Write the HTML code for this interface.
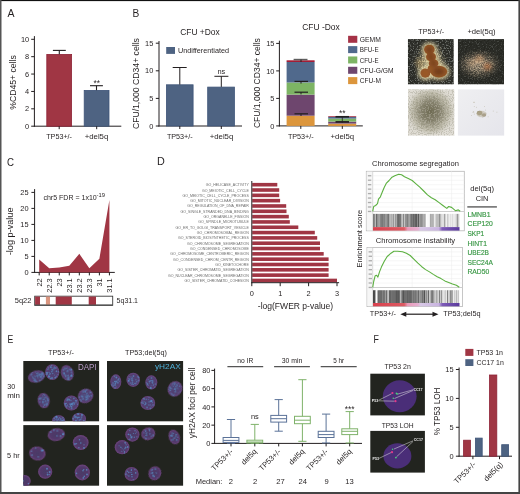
<!DOCTYPE html>
<html><head><meta charset="utf-8"><style>
html,body{margin:0;padding:0;background:#fff;overflow:hidden;}
svg{display:block;will-change:transform;filter:blur(0.3px);}
text{font-family:"Liberation Sans",sans-serif;}
</style></head><body>
<svg width="520" height="494" viewBox="0 0 520 494">
<rect x="0" y="0" width="520" height="494" fill="#fff"/>
<text x="7.6" y="16.5" font-size="11" text-anchor="start" fill="#231f20" textLength="7" lengthAdjust="spacingAndGlyphs">A</text>
<line x1="34.4" y1="36.1" x2="34.4" y2="126.7" stroke="#231f20" stroke-width="1.0"/>
<line x1="31.2" y1="126.2" x2="34.4" y2="126.2" stroke="#231f20" stroke-width="1.0"/>
<text x="29.2" y="128.8" font-size="7.4" text-anchor="end" fill="#231f20">0</text>
<line x1="31.2" y1="108.82000000000001" x2="34.4" y2="108.82000000000001" stroke="#231f20" stroke-width="1.0"/>
<text x="29.2" y="111.42" font-size="7.4" text-anchor="end" fill="#231f20">2</text>
<line x1="31.2" y1="91.44" x2="34.4" y2="91.44" stroke="#231f20" stroke-width="1.0"/>
<text x="29.2" y="94.03999999999999" font-size="7.4" text-anchor="end" fill="#231f20">4</text>
<line x1="31.2" y1="74.06" x2="34.4" y2="74.06" stroke="#231f20" stroke-width="1.0"/>
<text x="29.2" y="76.66" font-size="7.4" text-anchor="end" fill="#231f20">6</text>
<line x1="31.2" y1="56.68000000000001" x2="34.4" y2="56.68000000000001" stroke="#231f20" stroke-width="1.0"/>
<text x="29.2" y="59.28000000000001" font-size="7.4" text-anchor="end" fill="#231f20">8</text>
<line x1="31.2" y1="39.30000000000001" x2="34.4" y2="39.30000000000001" stroke="#231f20" stroke-width="1.0"/>
<text x="29.2" y="41.90000000000001" font-size="7.4" text-anchor="end" fill="#231f20">10</text>
<line x1="33.9" y1="126.2" x2="121.3" y2="126.2" stroke="#231f20" stroke-width="1.0"/>
<rect x="46.80" y="54.40" width="24.80" height="71.80" fill="#a03644" stroke="#8e2236" stroke-width="0.8"/>
<rect x="84.20" y="90.40" width="24.80" height="35.80" fill="#4e6382" stroke="#3e5478" stroke-width="0.8"/>
<line x1="59.3" y1="54.2" x2="59.3" y2="50.4" stroke="#231f20" stroke-width="1.1"/>
<line x1="52.9" y1="50.4" x2="65.8" y2="50.4" stroke="#231f20" stroke-width="1.1"/>
<line x1="96.5" y1="90.2" x2="96.5" y2="85.7" stroke="#231f20" stroke-width="1.1"/>
<line x1="90" y1="85.7" x2="102.9" y2="85.7" stroke="#231f20" stroke-width="1.1"/>
<text x="96.7" y="86" font-size="8.4" text-anchor="middle" fill="#231f20">**</text>
<line x1="59.2" y1="126.2" x2="59.2" y2="129.2" stroke="#231f20" stroke-width="1"/>
<line x1="96.7" y1="126.2" x2="96.7" y2="129.2" stroke="#231f20" stroke-width="1"/>
<text x="59.1" y="138.6" font-size="8.0" text-anchor="middle" fill="#231f20" textLength="25.8" lengthAdjust="spacingAndGlyphs">TP53+/-</text>
<text x="96.5" y="138.6" font-size="8.0" text-anchor="middle" fill="#231f20" textLength="23.6" lengthAdjust="spacingAndGlyphs">+del5q</text>
<text x="15.6" y="82.5" font-size="9.2" text-anchor="middle" fill="#231f20" textLength="54.5" lengthAdjust="spacingAndGlyphs" transform="rotate(-90 15.6 82.5)">%CD45+ cells</text>
<text x="132.4" y="16.5" font-size="11" text-anchor="start" fill="#231f20" textLength="6.8" lengthAdjust="spacingAndGlyphs">B</text>
<line x1="159" y1="41" x2="159" y2="126.5" stroke="#231f20" stroke-width="1.0"/>
<line x1="155.8" y1="126.0" x2="159" y2="126.0" stroke="#231f20" stroke-width="1.0"/>
<text x="153.3" y="128.6" font-size="7.4" text-anchor="end" fill="#231f20">0</text>
<line x1="155.8" y1="98.4" x2="159" y2="98.4" stroke="#231f20" stroke-width="1.0"/>
<text x="153.3" y="101.0" font-size="7.4" text-anchor="end" fill="#231f20">5</text>
<line x1="155.8" y1="70.8" x2="159" y2="70.8" stroke="#231f20" stroke-width="1.0"/>
<text x="153.3" y="73.39999999999999" font-size="7.4" text-anchor="end" fill="#231f20">10</text>
<line x1="155.8" y1="43.19999999999999" x2="159" y2="43.19999999999999" stroke="#231f20" stroke-width="1.0"/>
<text x="153.3" y="45.79999999999999" font-size="7.4" text-anchor="end" fill="#231f20">15</text>
<line x1="158.5" y1="126" x2="242" y2="126" stroke="#231f20" stroke-width="1.0"/>
<text x="200" y="34.7" font-size="8.6" text-anchor="middle" fill="#231f20" textLength="39.6" lengthAdjust="spacingAndGlyphs">CFU +Dox</text>
<rect x="166.20" y="47.00" width="8.80" height="6.90" fill="#4e6382"/>
<text x="178" y="52.6" font-size="7.2" text-anchor="start" fill="#231f20" textLength="51" lengthAdjust="spacingAndGlyphs">Undifferentiated</text>
<rect x="166.40" y="84.80" width="26.70" height="41.20" fill="#4e6382" stroke="#3e5478" stroke-width="0.8"/>
<rect x="207.70" y="87.10" width="26.70" height="38.90" fill="#4e6382" stroke="#3e5478" stroke-width="0.8"/>
<line x1="179.8" y1="84.6" x2="179.8" y2="67.5" stroke="#231f20" stroke-width="1"/>
<line x1="172.7" y1="67.5" x2="186.7" y2="67.5" stroke="#231f20" stroke-width="1"/>
<line x1="221.3" y1="86.9" x2="221.3" y2="76.3" stroke="#231f20" stroke-width="1"/>
<line x1="214.4" y1="76.3" x2="228.4" y2="76.3" stroke="#231f20" stroke-width="1"/>
<text x="221.3" y="73.8" font-size="7.4" text-anchor="middle" fill="#231f20">ns</text>
<line x1="179.8" y1="126" x2="179.8" y2="129" stroke="#231f20" stroke-width="1"/>
<line x1="221.3" y1="126" x2="221.3" y2="129" stroke="#231f20" stroke-width="1"/>
<text x="179.8" y="138.8" font-size="8.0" text-anchor="middle" fill="#231f20" textLength="25.8" lengthAdjust="spacingAndGlyphs">TP53+/-</text>
<text x="221.5" y="138.8" font-size="8.0" text-anchor="middle" fill="#231f20" textLength="23.6" lengthAdjust="spacingAndGlyphs">+del5q</text>
<text x="139.2" y="83.6" font-size="8.8" text-anchor="middle" fill="#231f20" textLength="91" lengthAdjust="spacingAndGlyphs" transform="rotate(-90 139.2 83.6)">CFU/1,000 CD34+ cells</text>
<line x1="279.4" y1="40.7" x2="279.4" y2="126.4" stroke="#231f20" stroke-width="1.0"/>
<line x1="276.2" y1="125.9" x2="279.4" y2="125.9" stroke="#231f20" stroke-width="1.0"/>
<text x="274.4" y="128.5" font-size="7.4" text-anchor="end" fill="#231f20">0</text>
<line x1="276.2" y1="98.4" x2="279.4" y2="98.4" stroke="#231f20" stroke-width="1.0"/>
<text x="274.4" y="101.0" font-size="7.4" text-anchor="end" fill="#231f20">5</text>
<line x1="276.2" y1="70.9" x2="279.4" y2="70.9" stroke="#231f20" stroke-width="1.0"/>
<text x="274.4" y="73.5" font-size="7.4" text-anchor="end" fill="#231f20">10</text>
<line x1="276.2" y1="43.400000000000006" x2="279.4" y2="43.400000000000006" stroke="#231f20" stroke-width="1.0"/>
<text x="274.4" y="46.00000000000001" font-size="7.4" text-anchor="end" fill="#231f20">15</text>
<line x1="278.9" y1="125.9" x2="362.8" y2="125.9" stroke="#231f20" stroke-width="1.0"/>
<text x="321" y="30.2" font-size="8.6" text-anchor="middle" fill="#231f20" textLength="37.6" lengthAdjust="spacingAndGlyphs">CFU -Dox</text>
<rect x="286.60" y="115.70" width="28.00" height="10.20" fill="#dc963c"/>
<rect x="286.60" y="94.60" width="28.00" height="21.10" fill="#6e466e"/>
<rect x="286.60" y="82.50" width="28.00" height="12.10" fill="#7db464"/>
<rect x="286.60" y="61.80" width="28.00" height="20.70" fill="#50698c"/>
<rect x="286.60" y="60.30" width="28.00" height="1.70" fill="#a41c36"/>
<line x1="294.5" y1="81.4" x2="308" y2="81.4" stroke="#231f20" stroke-width="1.2"/>
<line x1="301" y1="81.4" x2="301" y2="83.60000000000001" stroke="#231f20" stroke-width="1"/>
<line x1="294.5" y1="92.2" x2="308" y2="92.2" stroke="#231f20" stroke-width="1.2"/>
<line x1="301" y1="92.2" x2="301" y2="94.4" stroke="#231f20" stroke-width="1"/>
<line x1="294.5" y1="113.8" x2="308" y2="113.8" stroke="#231f20" stroke-width="1.2"/>
<line x1="301" y1="113.8" x2="301" y2="116.0" stroke="#231f20" stroke-width="1"/>
<line x1="293.6" y1="59.6" x2="307.5" y2="59.6" stroke="#5e5e5e" stroke-width="1.6"/>
<line x1="301" y1="59.6" x2="301" y2="62" stroke="#231f20" stroke-width="1"/>
<rect x="328.20" y="123.60" width="28.00" height="2.30" fill="#dc963c"/>
<rect x="328.20" y="121.60" width="28.00" height="2.00" fill="#6e466e"/>
<rect x="328.20" y="118.60" width="28.00" height="3.00" fill="#7db464"/>
<rect x="328.20" y="117.00" width="28.00" height="1.60" fill="#50698c"/>
<rect x="328.20" y="116.20" width="28.00" height="0.80" fill="#a53246"/>
<line x1="335.5" y1="116.8" x2="349" y2="116.8" stroke="#231f20" stroke-width="1.7"/>
<line x1="335.5" y1="121.9" x2="349" y2="121.9" stroke="#231f20" stroke-width="1.7"/>
<line x1="342.3" y1="116.7" x2="342.3" y2="123" stroke="#231f20" stroke-width="0.8"/>
<text x="342.3" y="115.5" font-size="8.4" text-anchor="middle" fill="#231f20">**</text>
<line x1="300.8" y1="125.9" x2="300.8" y2="128.9" stroke="#231f20" stroke-width="1"/>
<line x1="342.3" y1="125.9" x2="342.3" y2="128.9" stroke="#231f20" stroke-width="1"/>
<text x="300.8" y="138.5" font-size="8.0" text-anchor="middle" fill="#231f20" textLength="25.8" lengthAdjust="spacingAndGlyphs">TP53+/-</text>
<text x="342.3" y="138.5" font-size="8.0" text-anchor="middle" fill="#231f20" textLength="23.6" lengthAdjust="spacingAndGlyphs">+del5q</text>
<text x="259.9" y="83.1" font-size="8.8" text-anchor="middle" fill="#231f20" textLength="90" lengthAdjust="spacingAndGlyphs" transform="rotate(-90 259.9 83.1)">CFU/1,000 CD34+ cells</text>
<rect x="348.10" y="35.80" width="9.20" height="7.00" fill="#a53246"/>
<text x="359.8" y="41.9" font-size="7.4" text-anchor="start" fill="#231f20" textLength="21" lengthAdjust="spacingAndGlyphs">GEMM</text>
<rect x="348.10" y="46.13" width="9.20" height="7.00" fill="#50698c"/>
<text x="359.8" y="52.23" font-size="7.4" text-anchor="start" fill="#231f20" textLength="18.8" lengthAdjust="spacingAndGlyphs">BFU-E</text>
<rect x="348.10" y="56.46" width="9.20" height="7.00" fill="#7db464"/>
<text x="359.8" y="62.559999999999995" font-size="7.4" text-anchor="start" fill="#231f20" textLength="18.8" lengthAdjust="spacingAndGlyphs">CFU-E</text>
<rect x="348.10" y="66.79" width="9.20" height="7.00" fill="#6e466e"/>
<text x="359.8" y="72.88999999999999" font-size="7.4" text-anchor="start" fill="#231f20" textLength="33.7" lengthAdjust="spacingAndGlyphs">CFU-G/GM</text>
<rect x="348.10" y="77.12" width="9.20" height="7.00" fill="#dc963c"/>
<text x="359.8" y="83.22" font-size="7.4" text-anchor="start" fill="#231f20" textLength="21.2" lengthAdjust="spacingAndGlyphs">CFU-M</text>
<text x="431.2" y="33.6" font-size="8.0" text-anchor="middle" fill="#231f20" textLength="25.8" lengthAdjust="spacingAndGlyphs">TP53+/-</text>
<text x="481.5" y="33.6" font-size="8.0" text-anchor="middle" fill="#231f20" textLength="28.2" lengthAdjust="spacingAndGlyphs">+del(5q)</text>
<defs>
<filter id="nL1" x="0" y="0" width="100%" height="100%" color-interpolation-filters="sRGB">
 <feTurbulence type="fractalNoise" baseFrequency="0.75" numOctaves="2" seed="4" result="n"/>
 <feColorMatrix in="n" type="matrix" values="0 0 0 0 0.93  0 0 0 0 0.88  0 0 0 0 0.72  0 0 0 12 -6.3" result="c"/>
 <feComposite in="c" in2="SourceGraphic" operator="in"/>
</filter>
<filter id="nG1" x="0" y="0" width="100%" height="100%" color-interpolation-filters="sRGB">
 <feTurbulence type="fractalNoise" baseFrequency="0.75" numOctaves="2" seed="8" result="n"/>
 <feColorMatrix in="n" type="matrix" values="0 0 0 0 0.62  0 0 0 0 0.64  0 0 0 0 0.62  0 0 0 12 -6.5" result="c"/>
 <feComposite in="c" in2="SourceGraphic" operator="in"/>
</filter>
<filter id="nD1" x="0" y="0" width="100%" height="100%" color-interpolation-filters="sRGB">
 <feTurbulence type="fractalNoise" baseFrequency="0.75" numOctaves="2" seed="13" result="n"/>
 <feColorMatrix in="n" type="matrix" values="0 0 0 0 0.12  0 0 0 0 0.12  0 0 0 0 0.1  0 0 0 12 -6.3" result="c"/>
 <feComposite in="c" in2="SourceGraphic" operator="in"/>
</filter>
<filter id="nL2" x="0" y="0" width="100%" height="100%" color-interpolation-filters="sRGB">
 <feTurbulence type="fractalNoise" baseFrequency="0.75" numOctaves="2" seed="5" result="n"/>
 <feColorMatrix in="n" type="matrix" values="0 0 0 0 0.9  0 0 0 0 0.82  0 0 0 0 0.68  0 0 0 12 -6.0" result="c"/>
 <feComposite in="c" in2="SourceGraphic" operator="in"/>
</filter>
<filter id="nG2" x="0" y="0" width="100%" height="100%" color-interpolation-filters="sRGB">
 <feTurbulence type="fractalNoise" baseFrequency="0.75" numOctaves="2" seed="17" result="n"/>
 <feColorMatrix in="n" type="matrix" values="0 0 0 0 0.55  0 0 0 0 0.56  0 0 0 0 0.55  0 0 0 14 -8.0" result="c"/>
 <feComposite in="c" in2="SourceGraphic" operator="in"/>
</filter>
<filter id="nB3" x="0" y="0" width="100%" height="100%" color-interpolation-filters="sRGB">
 <feTurbulence type="fractalNoise" baseFrequency="0.75" numOctaves="2" seed="21" result="n"/>
 <feColorMatrix in="n" type="matrix" values="0 0 0 0 0.42  0 0 0 0 0.42  0 0 0 0 0.32  0 0 0 12 -6.0" result="c"/>
 <feComposite in="c" in2="SourceGraphic" operator="in"/>
</filter>
<filter id="nW3" x="0" y="0" width="100%" height="100%" color-interpolation-filters="sRGB">
 <feTurbulence type="fractalNoise" baseFrequency="0.75" numOctaves="2" seed="23" result="n"/>
 <feColorMatrix in="n" type="matrix" values="0 0 0 0 0.9  0 0 0 0 0.89  0 0 0 0 0.86  0 0 0 12 -6.3" result="c"/>
 <feComposite in="c" in2="SourceGraphic" operator="in"/>
</filter>
<radialGradient id="h1" cx="0.5" cy="0.5" r="0.5"><stop offset="0" stop-color="#ddd0a4" stop-opacity="0.95"/><stop offset="0.6" stop-color="#c8b98e" stop-opacity="0.6"/><stop offset="1" stop-color="#a89c7c" stop-opacity="0"/></radialGradient>
<radialGradient id="h2" cx="0.5" cy="0.5" r="0.5"><stop offset="0" stop-color="#c4b098" stop-opacity="0.9"/><stop offset="0.5" stop-color="#a4947e" stop-opacity="0.6"/><stop offset="1" stop-color="#807060" stop-opacity="0"/></radialGradient>
<radialGradient id="h3" cx="0.5" cy="0.5" r="0.5"><stop offset="0" stop-color="#6c6850" stop-opacity="0.97"/><stop offset="0.4" stop-color="#7a7660" stop-opacity="0.85"/><stop offset="0.75" stop-color="#9c987f" stop-opacity="0.5"/><stop offset="1" stop-color="#b8b4a4" stop-opacity="0"/></radialGradient>
<radialGradient id="mk" cx="0.5" cy="0.5" r="0.5"><stop offset="0" stop-color="#fff" stop-opacity="1"/><stop offset="0.6" stop-color="#fff" stop-opacity="0.6"/><stop offset="1" stop-color="#fff" stop-opacity="0"/></radialGradient>
<radialGradient id="col" cx="0.5" cy="0.5" r="0.5"><stop offset="0" stop-color="#8e4c1e"/><stop offset="0.7" stop-color="#a05a24"/><stop offset="1" stop-color="#c0883a"/></radialGradient>
<linearGradient id="g4" x1="0" y1="0" x2="1" y2="1"><stop offset="0" stop-color="#efeff1"/><stop offset="1" stop-color="#e5e5eb"/></linearGradient>
<filter id="blr" x="-30%" y="-30%" width="160%" height="160%"><feGaussianBlur stdDeviation="0.7"/></filter>
<filter id="blr2" x="-50%" y="-50%" width="200%" height="200%"><feGaussianBlur stdDeviation="2"/></filter>
<clipPath id="c1"><rect x="407.8" y="39.1" width="46" height="45.4"/></clipPath>
<clipPath id="c2"><rect x="457.8" y="39.1" width="46.2" height="45.4"/></clipPath>
<clipPath id="c3"><rect x="408" y="89.2" width="46.5" height="46.6"/></clipPath>
<clipPath id="c4"><rect x="457.7" y="89.2" width="46.7" height="46.6"/></clipPath>
</defs>
<g clip-path="url(#c1)">
<rect x="407.8" y="39.1" width="46" height="45.4" fill="#2e2f2a"/>
<rect x="407.8" y="39.1" width="46" height="45.4" fill="#fff" filter="url(#nG1)" opacity="0.5"/>
<ellipse cx="431" cy="63" rx="16" ry="18" fill="url(#h1)" filter="url(#blr)" opacity="0.6"/>
<ellipse cx="431" cy="63" rx="19" ry="21" fill="url(#mk)" filter="url(#nL1)" opacity="0.8"/>
<rect x="407.8" y="39.1" width="46" height="45.4" fill="#fff" filter="url(#nD1)" opacity="0.45"/>
<g filter="url(#blr2)" fill="#f0e2b0" opacity="0.9"><ellipse cx="429.4" cy="49.5" rx="7.5" ry="7.0"/><ellipse cx="431.0" cy="56.8" rx="7.199999999999999" ry="6.6"/><ellipse cx="433.6" cy="63.5" rx="7.0" ry="6.4"/><ellipse cx="425.4" cy="73.1" rx="7.199999999999999" ry="6.800000000000001"/><ellipse cx="438.9" cy="71.6" rx="10.6" ry="8.0"/><ellipse cx="431.5" cy="69" rx="6.1" ry="6.1"/></g>
<ellipse cx="419.8" cy="63" rx="4" ry="4.8" fill="#d9b878" opacity="0.45" filter="url(#blr2)"/>
<g filter="url(#blr)" fill="#96582a"><ellipse cx="429.4" cy="49.5" rx="5.300000000000001" ry="4.800000000000001"/><ellipse cx="431.0" cy="56.8" rx="5.0" ry="4.4"/><ellipse cx="433.6" cy="63.5" rx="4.800000000000001" ry="4.2"/><ellipse cx="425.4" cy="73.1" rx="5.0" ry="4.6000000000000005"/><ellipse cx="438.9" cy="71.6" rx="8.4" ry="5.800000000000001"/><ellipse cx="431.5" cy="69" rx="3.9" ry="3.9"/></g>
<g filter="url(#blr2)" fill="#6a3818" opacity="0.85"><ellipse cx="429.4" cy="49.5" rx="3.43" ry="3.08"/><ellipse cx="431.0" cy="56.8" rx="3.2199999999999998" ry="2.8"/><ellipse cx="433.6" cy="63.5" rx="3.08" ry="2.6599999999999997"/><ellipse cx="438.9" cy="71.6" rx="5.6" ry="3.78"/></g>
<ellipse cx="425.4" cy="73.3" rx="3.2" ry="2.8" fill="#9a5826" opacity="0.8" filter="url(#blr)"/>
</g>
<g clip-path="url(#c2)">
<rect x="457.8" y="39.1" width="46.2" height="45.4" fill="#2b2c27"/>
<rect x="457.8" y="39.1" width="46.2" height="45.4" fill="#fff" filter="url(#nG2)" opacity="0.25"/>
<ellipse cx="479" cy="64.5" rx="21" ry="13" fill="url(#h2)" filter="url(#blr2)"/>
<ellipse cx="479" cy="64" rx="22" ry="16" fill="url(#mk)" filter="url(#nL2)" opacity="0.55"/>
<rect x="457.8" y="39.1" width="46.2" height="45.4" fill="#fff" filter="url(#nD1)" opacity="0.45"/>
<g filter="url(#blr2)"><ellipse cx="479.3" cy="59" rx="4.5" ry="3" fill="#d9a070" opacity="0.65"/><ellipse cx="487.4" cy="66.4" rx="3.5" ry="3" fill="#c07040" opacity="0.8"/><ellipse cx="472" cy="63" rx="4" ry="3" fill="#d0a880" opacity="0.5"/></g>
</g>
<g clip-path="url(#c3)">
<rect x="408" y="89.2" width="46.5" height="46.6" fill="#dfdcd4"/>
<ellipse cx="430.5" cy="111.5" rx="25" ry="25" fill="url(#h3)" filter="url(#blr)"/>
<rect x="408" y="89.2" width="46.5" height="46.6" fill="#fff" filter="url(#nB3)" opacity="0.22"/>
<rect x="408" y="89.2" width="46.5" height="46.6" fill="#fff" filter="url(#nW3)" opacity="0.25"/>
</g>
<g clip-path="url(#c4)">
<rect x="457.7" y="89.2" width="46.7" height="46.6" fill="url(#g4)"/>
<g filter="url(#blr)"><ellipse cx="479.6" cy="113" rx="2.8" ry="2.2" fill="#8e8462" opacity="0.85"/><ellipse cx="484" cy="115" rx="2.2" ry="1.7" fill="#8a7e66" opacity="0.8"/><ellipse cx="481.5" cy="114" rx="5" ry="3.2" fill="#b8b098" opacity="0.5"/></g>
<rect x="473.9" y="113.7" width="0.8" height="0.8" fill="#a8a088" opacity="0.5"/>
<rect x="485.0" y="109.7" width="0.8" height="0.8" fill="#a8a088" opacity="0.5"/>
<rect x="473.4" y="111.7" width="0.8" height="0.8" fill="#a8a088" opacity="0.5"/>
<rect x="482.4" y="116.9" width="0.8" height="0.8" fill="#a8a088" opacity="0.5"/>
<rect x="473.9" y="106.2" width="0.8" height="0.8" fill="#a8a088" opacity="0.5"/>
<rect x="483.5" y="114.1" width="0.8" height="0.8" fill="#a8a088" opacity="0.5"/>
<rect x="487.7" y="116.4" width="0.8" height="0.8" fill="#a8a088" opacity="0.5"/>
<rect x="479.5" y="110.8" width="0.8" height="0.8" fill="#a8a088" opacity="0.5"/>
<rect x="492.9" y="110.7" width="0.8" height="0.8" fill="#a8a088" opacity="0.5"/>
<rect x="476.1" y="106.9" width="0.8" height="0.8" fill="#a8a088" opacity="0.5"/>
<rect x="480.5" y="112.7" width="0.8" height="0.8" fill="#a8a088" opacity="0.5"/>
<rect x="478.3" y="111.7" width="0.8" height="0.8" fill="#a8a088" opacity="0.5"/>
<rect x="481.4" y="115.1" width="0.8" height="0.8" fill="#a8a088" opacity="0.5"/>
<rect x="485.5" y="112.9" width="0.8" height="0.8" fill="#a8a088" opacity="0.5"/>
<rect x="471.1" y="115.2" width="0.8" height="0.8" fill="#a8a088" opacity="0.5"/>
<rect x="472.9" y="111.2" width="0.8" height="0.8" fill="#a8a088" opacity="0.5"/>
<rect x="472.6" y="112.0" width="0.8" height="0.8" fill="#a8a088" opacity="0.5"/>
<rect x="476.1" y="113.0" width="0.8" height="0.8" fill="#a8a088" opacity="0.5"/>
<rect x="496.5" y="111.8" width="0.8" height="0.8" fill="#a8a088" opacity="0.5"/>
<rect x="484.2" y="106.0" width="0.8" height="0.8" fill="#a8a088" opacity="0.5"/>
<rect x="478.6" y="115.0" width="0.8" height="0.8" fill="#a8a088" opacity="0.5"/>
<rect x="479.5" y="113.7" width="0.8" height="0.8" fill="#a8a088" opacity="0.5"/>
<rect x="473.5" y="101.8" width="1" height="1.2" fill="#a09878" opacity="0.6"/>
</g>
<text x="7.0" y="165.8" font-size="11" text-anchor="start" fill="#231f20" textLength="7" lengthAdjust="spacingAndGlyphs">C</text>
<line x1="34.6" y1="189.1" x2="34.6" y2="272.9" stroke="#231f20" stroke-width="1.0"/>
<line x1="31.400000000000002" y1="272.4" x2="34.6" y2="272.4" stroke="#231f20" stroke-width="1.0"/>
<text x="28.6" y="275.0" font-size="7.4" text-anchor="end" fill="#231f20">0</text>
<line x1="31.400000000000002" y1="256.4" x2="34.6" y2="256.4" stroke="#231f20" stroke-width="1.0"/>
<text x="28.6" y="259.0" font-size="7.4" text-anchor="end" fill="#231f20">5</text>
<line x1="31.400000000000002" y1="240.39999999999998" x2="34.6" y2="240.39999999999998" stroke="#231f20" stroke-width="1.0"/>
<text x="28.6" y="242.99999999999997" font-size="7.4" text-anchor="end" fill="#231f20">10</text>
<line x1="31.400000000000002" y1="224.39999999999998" x2="34.6" y2="224.39999999999998" stroke="#231f20" stroke-width="1.0"/>
<text x="28.6" y="226.99999999999997" font-size="7.4" text-anchor="end" fill="#231f20">15</text>
<line x1="31.400000000000002" y1="208.39999999999998" x2="34.6" y2="208.39999999999998" stroke="#231f20" stroke-width="1.0"/>
<text x="28.6" y="210.99999999999997" font-size="7.4" text-anchor="end" fill="#231f20">20</text>
<line x1="31.400000000000002" y1="192.39999999999998" x2="34.6" y2="192.39999999999998" stroke="#231f20" stroke-width="1.0"/>
<text x="28.6" y="194.99999999999997" font-size="7.4" text-anchor="end" fill="#231f20">25</text>
<line x1="34.1" y1="272.4" x2="114.8" y2="272.4" stroke="#231f20" stroke-width="1.0"/>
<polygon points="39.2,272.4 39.20,259.60 49.23,268.24 59.26,267.60 69.29,265.68 79.32,253.84 89.35,268.24 99.38,258.64 109.41,200.08 109.41,272.4" fill="#a03644"/>
<line x1="39.2" y1="272.4" x2="39.2" y2="275.4" stroke="#231f20" stroke-width="1"/>
<text x="41.900000000000006" y="278.3" font-size="7.4" text-anchor="end" fill="#231f20" transform="rotate(-90 41.900000000000006 278.3)">22</text>
<line x1="49.230000000000004" y1="272.4" x2="49.230000000000004" y2="275.4" stroke="#231f20" stroke-width="1"/>
<text x="51.93000000000001" y="278.3" font-size="7.4" text-anchor="end" fill="#231f20" transform="rotate(-90 51.93000000000001 278.3)">22.3</text>
<line x1="59.260000000000005" y1="272.4" x2="59.260000000000005" y2="275.4" stroke="#231f20" stroke-width="1"/>
<text x="61.96000000000001" y="278.3" font-size="7.4" text-anchor="end" fill="#231f20" transform="rotate(-90 61.96000000000001 278.3)">23</text>
<line x1="69.28999999999999" y1="272.4" x2="69.28999999999999" y2="275.4" stroke="#231f20" stroke-width="1"/>
<text x="71.99" y="278.3" font-size="7.4" text-anchor="end" fill="#231f20" transform="rotate(-90 71.99 278.3)">23.1</text>
<line x1="79.32" y1="272.4" x2="79.32" y2="275.4" stroke="#231f20" stroke-width="1"/>
<text x="82.02" y="278.3" font-size="7.4" text-anchor="end" fill="#231f20" transform="rotate(-90 82.02 278.3)">23.2</text>
<line x1="89.35" y1="272.4" x2="89.35" y2="275.4" stroke="#231f20" stroke-width="1"/>
<text x="92.05" y="278.3" font-size="7.4" text-anchor="end" fill="#231f20" transform="rotate(-90 92.05 278.3)">23.3</text>
<line x1="99.38" y1="272.4" x2="99.38" y2="275.4" stroke="#231f20" stroke-width="1"/>
<text x="102.08" y="278.3" font-size="7.4" text-anchor="end" fill="#231f20" transform="rotate(-90 102.08 278.3)">31</text>
<line x1="109.41" y1="272.4" x2="109.41" y2="275.4" stroke="#231f20" stroke-width="1"/>
<text x="112.11" y="278.3" font-size="7.4" text-anchor="end" fill="#231f20" transform="rotate(-90 112.11 278.3)">31.1</text>
<text x="13.2" y="231.4" font-size="8.4" text-anchor="middle" fill="#231f20" textLength="47.8" lengthAdjust="spacingAndGlyphs" transform="rotate(-90 13.2 231.4)">-log p-value</text>
<text x="43.4" y="199.9" font-size="7.6" fill="#231f20" textLength="53.4" lengthAdjust="spacingAndGlyphs">chr5 FDR = 1x10</text>
<text x="96.6" y="196.6" font-size="5" fill="#231f20" textLength="8.4" lengthAdjust="spacingAndGlyphs">-19</text>
<rect x="34.70" y="296.20" width="78.00" height="9.00" fill="#fff" stroke="#3a3a3a" stroke-width="0.9"/>
<rect x="35.10" y="296.60" width="4.90" height="8.40" fill="#a03644"/>
<rect x="45.90" y="296.60" width="4.10" height="8.40" fill="#d9957f"/>
<rect x="55.70" y="296.60" width="16.10" height="8.40" fill="#a03644"/>
<rect x="88.70" y="296.60" width="7.30" height="8.40" fill="#a03644"/>
<line x1="34.6" y1="305.3" x2="112.8" y2="305.3" stroke="#555" stroke-width="1.5"/>
<text x="31.4" y="303.0" font-size="8.0" text-anchor="end" fill="#231f20" textLength="16.6" lengthAdjust="spacingAndGlyphs">5q22</text>
<text x="116.6" y="303.0" font-size="8.0" text-anchor="start" fill="#231f20" textLength="21.4" lengthAdjust="spacingAndGlyphs">5q31.1</text>
<text x="156.9" y="165.4" font-size="11" text-anchor="start" fill="#231f20" textLength="7.8" lengthAdjust="spacingAndGlyphs">D</text>
<rect x="252.20" y="182.90" width="25.10" height="3.60" fill="#a03644"/>
<text x="248.8" y="186.20000000000002" font-size="3.55" text-anchor="end" fill="#6a6a6a">GO_HELICASE_ACTIVITY</text>
<rect x="252.20" y="188.22" width="27.00" height="3.60" fill="#a03644"/>
<text x="248.8" y="191.52" font-size="3.55" text-anchor="end" fill="#6a6a6a">GO_MEIOTIC_CELL_CYCLE</text>
<rect x="252.20" y="193.54" width="27.00" height="3.60" fill="#a03644"/>
<text x="248.8" y="196.84000000000003" font-size="3.55" text-anchor="end" fill="#6a6a6a">GO_MEIOTIC_CELL_CYCLE_PROCESS</text>
<rect x="252.20" y="198.86" width="27.90" height="3.60" fill="#a03644"/>
<text x="248.8" y="202.16000000000003" font-size="3.55" text-anchor="end" fill="#6a6a6a">GO_MITOTIC_NUCLEAR_DIVISION</text>
<rect x="252.20" y="204.18" width="34.00" height="3.60" fill="#a03644"/>
<text x="248.8" y="207.48000000000002" font-size="3.55" text-anchor="end" fill="#6a6a6a">GO_REGULATION_OF_DNA_REPAIR</text>
<rect x="252.20" y="209.50" width="34.30" height="3.60" fill="#a03644"/>
<text x="248.8" y="212.8" font-size="3.55" text-anchor="end" fill="#6a6a6a">GO_SINGLE_STRANDED_DNA_BINDING</text>
<rect x="252.20" y="214.82" width="36.60" height="3.60" fill="#a03644"/>
<text x="248.8" y="218.12" font-size="3.55" text-anchor="end" fill="#6a6a6a">GO_ORGANELLE_FISSION</text>
<rect x="252.20" y="220.14" width="37.60" height="3.60" fill="#a03644"/>
<text x="248.8" y="223.44000000000003" font-size="3.55" text-anchor="end" fill="#6a6a6a">GO_SPINDLE_MICROTUBULE</text>
<rect x="252.20" y="225.46" width="46.10" height="3.60" fill="#a03644"/>
<text x="248.8" y="228.76000000000002" font-size="3.55" text-anchor="end" fill="#6a6a6a">GO_ER_TO_GOLGI_TRANSPORT_VESICLE</text>
<rect x="252.20" y="230.78" width="62.60" height="3.60" fill="#a03644"/>
<text x="248.8" y="234.08" font-size="3.55" text-anchor="end" fill="#6a6a6a">GO_CHROMOSOMAL_REGION</text>
<rect x="252.20" y="236.10" width="65.00" height="3.60" fill="#a03644"/>
<text x="248.8" y="239.40000000000003" font-size="3.55" text-anchor="end" fill="#6a6a6a">GO_STEROID_BIOSYNTHETIC_PROCESS</text>
<rect x="252.20" y="241.42" width="67.80" height="3.60" fill="#a03644"/>
<text x="248.8" y="244.72000000000003" font-size="3.55" text-anchor="end" fill="#6a6a6a">GO_CHROMOSOME_SEGREGATION</text>
<rect x="252.20" y="246.74" width="67.80" height="3.60" fill="#a03644"/>
<text x="248.8" y="250.04000000000002" font-size="3.55" text-anchor="end" fill="#6a6a6a">GO_CONDENSED_CHROMOSOME</text>
<rect x="252.20" y="252.06" width="71.50" height="3.60" fill="#a03644"/>
<text x="248.8" y="255.36" font-size="3.55" text-anchor="end" fill="#6a6a6a">GO_CHROMOSOME_CENTROMERIC_REGION</text>
<rect x="252.20" y="257.38" width="76.40" height="3.60" fill="#a03644"/>
<text x="248.8" y="260.68" font-size="3.55" text-anchor="end" fill="#6a6a6a">GO_CONDENSED_CHROM_CENTR_REGION</text>
<rect x="252.20" y="262.70" width="76.40" height="3.60" fill="#a03644"/>
<text x="248.8" y="266.00000000000006" font-size="3.55" text-anchor="end" fill="#6a6a6a">GO_KINETOCHORE</text>
<rect x="252.20" y="268.02" width="76.40" height="3.60" fill="#a03644"/>
<text x="248.8" y="271.32" font-size="3.55" text-anchor="end" fill="#6a6a6a">GO_SISTER_CHROMATID_SEGREGATION</text>
<rect x="252.20" y="273.34" width="76.40" height="3.60" fill="#a03644"/>
<text x="248.8" y="276.64000000000004" font-size="3.55" text-anchor="end" fill="#6a6a6a">GO_NUCLEAR_CHROMOSOME_SEGREGATION</text>
<rect x="252.20" y="278.66" width="84.80" height="3.60" fill="#a03644"/>
<text x="248.8" y="281.96000000000004" font-size="3.55" text-anchor="end" fill="#6a6a6a">GO_SISTER_CHROMATID_COHESION</text>
<line x1="251.8" y1="181" x2="251.8" y2="283.2" stroke="#231f20" stroke-width="1.0"/>
<line x1="251.3" y1="282.7" x2="339.1" y2="282.7" stroke="#231f20" stroke-width="1.0"/>
<line x1="251.8" y1="282.7" x2="251.8" y2="286.2" stroke="#231f20" stroke-width="1"/>
<text x="251.8" y="296.2" font-size="7.4" text-anchor="middle" fill="#231f20">0</text>
<line x1="280.2" y1="282.7" x2="280.2" y2="286.2" stroke="#231f20" stroke-width="1"/>
<text x="280.2" y="296.2" font-size="7.4" text-anchor="middle" fill="#231f20">1</text>
<line x1="308.6" y1="282.7" x2="308.6" y2="286.2" stroke="#231f20" stroke-width="1"/>
<text x="308.6" y="296.2" font-size="7.4" text-anchor="middle" fill="#231f20">2</text>
<line x1="337.0" y1="282.7" x2="337.0" y2="286.2" stroke="#231f20" stroke-width="1"/>
<text x="337.0" y="296.2" font-size="7.4" text-anchor="middle" fill="#231f20">3</text>
<text x="295.5" y="308.5" font-size="8.6" text-anchor="middle" fill="#231f20" textLength="75.4" lengthAdjust="spacingAndGlyphs">-log(FWER p-value)</text>
<defs><linearGradient id="cbar" x1="0" x2="1" y1="0" y2="0">
<stop offset="0" stop-color="#d9414e"/><stop offset="0.36" stop-color="#dc5a62"/><stop offset="0.4" stop-color="#e99ab8"/>
<stop offset="0.52" stop-color="#e6aed0"/><stop offset="0.55" stop-color="#d8c8e6"/><stop offset="0.76" stop-color="#c9b4e0"/>
<stop offset="0.8" stop-color="#7e5cb8"/><stop offset="1" stop-color="#5a3a9c"/></linearGradient></defs>
<rect x="366.3" y="171.3" width="98.0" height="59.5" fill="#fff" stroke="#b8b8b8" stroke-width="0.8"/>
<rect x="366.7" y="171.70000000000002" width="5.999999999999977" height="58.7" fill="#f6f6f6"/>
<line x1="372.7" y1="171.3" x2="372.7" y2="230.8" stroke="#c8c8c8" stroke-width="0.6"/>
<line x1="372.7" y1="211.50" x2="464.3" y2="211.50" stroke="#ececec" stroke-width="0.5"/>
<rect x="367.90000000000003" y="210.80" width="3.4" height="1.3" fill="#9a9a9a" opacity="0.8"/>
<line x1="372.7" y1="207.04" x2="464.3" y2="207.04" stroke="#ececec" stroke-width="0.5"/>
<rect x="367.90000000000003" y="206.34" width="3.4" height="1.3" fill="#9a9a9a" opacity="0.8"/>
<line x1="372.7" y1="202.57" x2="464.3" y2="202.57" stroke="#ececec" stroke-width="0.5"/>
<rect x="367.90000000000003" y="201.88" width="3.4" height="1.3" fill="#9a9a9a" opacity="0.8"/>
<line x1="372.7" y1="198.11" x2="464.3" y2="198.11" stroke="#ececec" stroke-width="0.5"/>
<rect x="367.90000000000003" y="197.41" width="3.4" height="1.3" fill="#9a9a9a" opacity="0.8"/>
<line x1="372.7" y1="193.65" x2="464.3" y2="193.65" stroke="#ececec" stroke-width="0.5"/>
<rect x="367.90000000000003" y="192.95" width="3.4" height="1.3" fill="#9a9a9a" opacity="0.8"/>
<line x1="372.7" y1="189.19" x2="464.3" y2="189.19" stroke="#ececec" stroke-width="0.5"/>
<rect x="367.90000000000003" y="188.49" width="3.4" height="1.3" fill="#9a9a9a" opacity="0.8"/>
<line x1="372.7" y1="184.73" x2="464.3" y2="184.73" stroke="#ececec" stroke-width="0.5"/>
<rect x="367.90000000000003" y="184.03" width="3.4" height="1.3" fill="#9a9a9a" opacity="0.8"/>
<line x1="372.7" y1="180.26" x2="464.3" y2="180.26" stroke="#ececec" stroke-width="0.5"/>
<rect x="367.90000000000003" y="179.56" width="3.4" height="1.3" fill="#9a9a9a" opacity="0.8"/>
<line x1="372.7" y1="175.80" x2="464.3" y2="175.80" stroke="#ececec" stroke-width="0.5"/>
<rect x="367.90000000000003" y="175.10" width="3.4" height="1.3" fill="#9a9a9a" opacity="0.8"/>
<line x1="412.2" y1="171.3" x2="412.2" y2="211.5" stroke="#ececec" stroke-width="0.5"/>
<line x1="451.6" y1="171.3" x2="451.6" y2="211.5" stroke="#ececec" stroke-width="0.5"/>
<line x1="372.7" y1="211.5" x2="464.3" y2="211.5" stroke="#bdbdbd" stroke-width="0.7"/>
<rect x="373.00" y="213.9" width="0.55" height="13.199999999999989" fill="rgb(78,78,78)"/>
<rect x="373.50" y="213.9" width="0.55" height="13.199999999999989" fill="rgb(96,96,96)"/>
<rect x="374.00" y="213.9" width="0.55" height="13.199999999999989" fill="rgb(110,110,110)"/>
<rect x="374.50" y="213.9" width="0.55" height="13.199999999999989" fill="rgb(111,111,111)"/>
<rect x="375.00" y="213.9" width="0.55" height="13.199999999999989" fill="rgb(131,131,131)"/>
<rect x="375.50" y="213.9" width="0.55" height="13.199999999999989" fill="rgb(187,187,187)"/>
<rect x="376.00" y="213.9" width="0.55" height="13.199999999999989" fill="rgb(77,77,77)"/>
<rect x="376.50" y="213.9" width="0.55" height="13.199999999999989" fill="rgb(54,54,54)"/>
<rect x="377.00" y="213.9" width="0.55" height="13.199999999999989" fill="rgb(103,103,103)"/>
<rect x="377.50" y="213.9" width="0.55" height="13.199999999999989" fill="rgb(124,124,124)"/>
<rect x="378.00" y="213.9" width="0.55" height="13.199999999999989" fill="rgb(201,201,201)"/>
<rect x="378.50" y="213.9" width="0.55" height="13.199999999999989" fill="rgb(95,95,95)"/>
<rect x="379.00" y="213.9" width="0.55" height="13.199999999999989" fill="rgb(153,153,153)"/>
<rect x="379.50" y="213.9" width="0.55" height="13.199999999999989" fill="rgb(132,132,132)"/>
<rect x="380.00" y="213.9" width="0.55" height="13.199999999999989" fill="rgb(133,133,133)"/>
<rect x="380.50" y="213.9" width="0.55" height="13.199999999999989" fill="rgb(85,85,85)"/>
<rect x="381.00" y="213.9" width="0.55" height="13.199999999999989" fill="rgb(105,105,105)"/>
<rect x="381.50" y="213.9" width="0.55" height="13.199999999999989" fill="rgb(83,83,83)"/>
<rect x="382.00" y="213.9" width="0.55" height="13.199999999999989" fill="rgb(106,106,106)"/>
<rect x="382.50" y="213.9" width="0.55" height="13.199999999999989" fill="rgb(72,72,72)"/>
<rect x="383.00" y="213.9" width="0.55" height="13.199999999999989" fill="rgb(106,106,106)"/>
<rect x="383.50" y="213.9" width="0.55" height="13.199999999999989" fill="rgb(104,104,104)"/>
<rect x="384.00" y="213.9" width="0.55" height="13.199999999999989" fill="rgb(129,129,129)"/>
<rect x="384.50" y="213.9" width="0.55" height="13.199999999999989" fill="rgb(79,79,79)"/>
<rect x="385.00" y="213.9" width="0.55" height="13.199999999999989" fill="rgb(92,92,92)"/>
<rect x="385.50" y="213.9" width="0.55" height="13.199999999999989" fill="rgb(146,146,146)"/>
<rect x="386.00" y="213.9" width="0.55" height="13.199999999999989" fill="rgb(98,98,98)"/>
<rect x="386.50" y="213.9" width="0.55" height="13.199999999999989" fill="rgb(138,138,138)"/>
<rect x="387.00" y="213.9" width="0.55" height="13.199999999999989" fill="rgb(149,149,149)"/>
<rect x="387.50" y="213.9" width="0.55" height="13.199999999999989" fill="rgb(70,70,70)"/>
<rect x="388.00" y="213.9" width="0.55" height="13.199999999999989" fill="rgb(55,55,55)"/>
<rect x="388.50" y="213.9" width="0.55" height="13.199999999999989" fill="rgb(90,90,90)"/>
<rect x="389.00" y="213.9" width="0.55" height="13.199999999999989" fill="rgb(154,154,154)"/>
<rect x="389.50" y="213.9" width="0.55" height="13.199999999999989" fill="rgb(154,154,154)"/>
<rect x="390.00" y="213.9" width="0.55" height="13.199999999999989" fill="rgb(215,215,215)"/>
<rect x="390.50" y="213.9" width="0.55" height="13.199999999999989" fill="rgb(141,141,141)"/>
<rect x="391.00" y="213.9" width="0.55" height="13.199999999999989" fill="rgb(133,133,133)"/>
<rect x="391.50" y="213.9" width="0.55" height="13.199999999999989" fill="rgb(163,163,163)"/>
<rect x="392.00" y="213.9" width="0.55" height="13.199999999999989" fill="rgb(215,215,215)"/>
<rect x="392.50" y="213.9" width="0.55" height="13.199999999999989" fill="rgb(140,140,140)"/>
<rect x="393.00" y="213.9" width="0.55" height="13.199999999999989" fill="rgb(139,139,139)"/>
<rect x="393.50" y="213.9" width="0.55" height="13.199999999999989" fill="rgb(114,114,114)"/>
<rect x="394.00" y="213.9" width="0.55" height="13.199999999999989" fill="rgb(153,153,153)"/>
<rect x="394.50" y="213.9" width="0.55" height="13.199999999999989" fill="rgb(201,201,201)"/>
<rect x="395.00" y="213.9" width="0.55" height="13.199999999999989" fill="rgb(139,139,139)"/>
<rect x="395.50" y="213.9" width="0.55" height="13.199999999999989" fill="rgb(115,115,115)"/>
<rect x="396.00" y="213.9" width="0.55" height="13.199999999999989" fill="rgb(124,124,124)"/>
<rect x="396.50" y="213.9" width="0.55" height="13.199999999999989" fill="rgb(159,159,159)"/>
<rect x="397.00" y="213.9" width="0.55" height="13.199999999999989" fill="rgb(95,95,95)"/>
<rect x="397.50" y="213.9" width="0.55" height="13.199999999999989" fill="rgb(66,66,66)"/>
<rect x="398.00" y="213.9" width="0.55" height="13.199999999999989" fill="rgb(87,87,87)"/>
<rect x="398.50" y="213.9" width="0.55" height="13.199999999999989" fill="rgb(53,53,53)"/>
<rect x="399.00" y="213.9" width="0.55" height="13.199999999999989" fill="rgb(55,55,55)"/>
<rect x="399.50" y="213.9" width="0.55" height="13.199999999999989" fill="rgb(92,92,92)"/>
<rect x="400.00" y="213.9" width="0.55" height="13.199999999999989" fill="rgb(81,81,81)"/>
<rect x="400.50" y="213.9" width="0.55" height="13.199999999999989" fill="rgb(87,87,87)"/>
<rect x="401.00" y="213.9" width="0.55" height="13.199999999999989" fill="rgb(192,192,192)"/>
<rect x="401.50" y="213.9" width="0.55" height="13.199999999999989" fill="rgb(137,137,137)"/>
<rect x="402.00" y="213.9" width="0.55" height="13.199999999999989" fill="rgb(210,210,210)"/>
<rect x="402.50" y="213.9" width="0.55" height="13.199999999999989" fill="rgb(161,161,161)"/>
<rect x="403.00" y="213.9" width="0.55" height="13.199999999999989" fill="rgb(122,122,122)"/>
<rect x="403.50" y="213.9" width="0.55" height="13.199999999999989" fill="rgb(90,90,90)"/>
<rect x="404.00" y="213.9" width="0.55" height="13.199999999999989" fill="rgb(150,150,150)"/>
<rect x="404.50" y="213.9" width="0.55" height="13.199999999999989" fill="rgb(198,198,198)"/>
<rect x="405.00" y="213.9" width="0.55" height="13.199999999999989" fill="rgb(140,140,140)"/>
<rect x="405.50" y="213.9" width="0.55" height="13.199999999999989" fill="rgb(104,104,104)"/>
<rect x="406.00" y="213.9" width="0.55" height="13.199999999999989" fill="rgb(99,99,99)"/>
<rect x="406.50" y="213.9" width="0.55" height="13.199999999999989" fill="rgb(124,124,124)"/>
<rect x="407.00" y="213.9" width="0.55" height="13.199999999999989" fill="rgb(90,90,90)"/>
<rect x="407.50" y="213.9" width="0.55" height="13.199999999999989" fill="rgb(97,97,97)"/>
<rect x="408.00" y="213.9" width="0.55" height="13.199999999999989" fill="rgb(139,139,139)"/>
<rect x="408.50" y="213.9" width="0.55" height="13.199999999999989" fill="rgb(120,120,120)"/>
<rect x="409.00" y="213.9" width="0.55" height="13.199999999999989" fill="rgb(124,124,124)"/>
<rect x="409.50" y="213.9" width="0.55" height="13.199999999999989" fill="rgb(145,145,145)"/>
<rect x="410.00" y="213.9" width="0.55" height="13.199999999999989" fill="rgb(66,66,66)"/>
<rect x="410.50" y="213.9" width="0.55" height="13.199999999999989" fill="rgb(118,118,118)"/>
<rect x="411.00" y="213.9" width="0.55" height="13.199999999999989" fill="rgb(115,115,115)"/>
<rect x="411.50" y="213.9" width="0.55" height="13.199999999999989" fill="rgb(51,51,51)"/>
<rect x="412.00" y="213.9" width="0.55" height="13.199999999999989" fill="rgb(47,47,47)"/>
<rect x="412.50" y="213.9" width="0.55" height="13.199999999999989" fill="rgb(113,113,113)"/>
<rect x="413.00" y="213.9" width="0.55" height="13.199999999999989" fill="rgb(83,83,83)"/>
<rect x="413.50" y="213.9" width="0.55" height="13.199999999999989" fill="rgb(46,46,46)"/>
<rect x="414.00" y="213.9" width="0.55" height="13.199999999999989" fill="rgb(56,56,56)"/>
<rect x="414.50" y="213.9" width="0.55" height="13.199999999999989" fill="rgb(94,94,94)"/>
<rect x="415.00" y="213.9" width="0.55" height="13.199999999999989" fill="rgb(46,46,46)"/>
<rect x="415.50" y="213.9" width="0.55" height="13.199999999999989" fill="rgb(60,60,60)"/>
<rect x="416.00" y="213.9" width="0.55" height="13.199999999999989" fill="rgb(54,54,54)"/>
<rect x="416.50" y="213.9" width="0.55" height="13.199999999999989" fill="rgb(43,43,43)"/>
<rect x="417.00" y="213.9" width="0.55" height="13.199999999999989" fill="rgb(98,98,98)"/>
<rect x="417.50" y="213.9" width="0.55" height="13.199999999999989" fill="rgb(121,121,121)"/>
<rect x="418.00" y="213.9" width="0.55" height="13.199999999999989" fill="rgb(50,50,50)"/>
<rect x="418.50" y="213.9" width="0.55" height="13.199999999999989" fill="rgb(40,40,40)"/>
<rect x="419.00" y="213.9" width="0.55" height="13.199999999999989" fill="rgb(132,132,132)"/>
<rect x="419.50" y="213.9" width="0.55" height="13.199999999999989" fill="rgb(140,140,140)"/>
<rect x="420.00" y="213.9" width="0.55" height="13.199999999999989" fill="rgb(111,111,111)"/>
<rect x="420.50" y="213.9" width="0.55" height="13.199999999999989" fill="rgb(121,121,121)"/>
<rect x="421.00" y="213.9" width="0.55" height="13.199999999999989" fill="rgb(147,147,147)"/>
<rect x="421.50" y="213.9" width="0.55" height="13.199999999999989" fill="rgb(92,92,92)"/>
<rect x="422.00" y="213.9" width="0.55" height="13.199999999999989" fill="rgb(106,106,106)"/>
<rect x="422.50" y="213.9" width="0.55" height="13.199999999999989" fill="rgb(141,141,141)"/>
<rect x="423.00" y="213.9" width="0.55" height="13.199999999999989" fill="rgb(137,137,137)"/>
<rect x="423.50" y="213.9" width="0.55" height="13.199999999999989" fill="rgb(166,166,166)"/>
<rect x="424.00" y="213.9" width="0.55" height="13.199999999999989" fill="rgb(140,140,140)"/>
<rect x="424.50" y="213.9" width="0.55" height="13.199999999999989" fill="rgb(148,148,148)"/>
<rect x="425.00" y="213.9" width="0.55" height="13.199999999999989" fill="rgb(99,99,99)"/>
<rect x="425.50" y="213.9" width="0.55" height="13.199999999999989" fill="rgb(220,220,220)"/>
<rect x="426.00" y="213.9" width="0.55" height="13.199999999999989" fill="rgb(246,246,246)"/>
<rect x="426.50" y="213.9" width="0.55" height="13.199999999999989" fill="rgb(253,253,253)"/>
<rect x="427.00" y="213.9" width="0.55" height="13.199999999999989" fill="rgb(252,252,252)"/>
<rect x="427.50" y="213.9" width="0.55" height="13.199999999999989" fill="rgb(246,246,246)"/>
<rect x="428.00" y="213.9" width="0.55" height="13.199999999999989" fill="rgb(249,249,249)"/>
<rect x="428.50" y="213.9" width="0.55" height="13.199999999999989" fill="rgb(244,244,244)"/>
<rect x="429.00" y="213.9" width="0.55" height="13.199999999999989" fill="rgb(249,249,249)"/>
<rect x="429.50" y="213.9" width="0.55" height="13.199999999999989" fill="rgb(225,225,225)"/>
<rect x="430.00" y="213.9" width="0.55" height="13.199999999999989" fill="rgb(93,93,93)"/>
<rect x="430.50" y="213.9" width="0.55" height="13.199999999999989" fill="rgb(172,172,172)"/>
<rect x="431.00" y="213.9" width="0.55" height="13.199999999999989" fill="rgb(213,213,213)"/>
<rect x="431.50" y="213.9" width="0.55" height="13.199999999999989" fill="rgb(129,129,129)"/>
<rect x="432.00" y="213.9" width="0.55" height="13.199999999999989" fill="rgb(194,194,194)"/>
<rect x="432.50" y="213.9" width="0.55" height="13.199999999999989" fill="rgb(137,137,137)"/>
<rect x="433.00" y="213.9" width="0.55" height="13.199999999999989" fill="rgb(149,149,149)"/>
<rect x="433.50" y="213.9" width="0.55" height="13.199999999999989" fill="rgb(175,175,175)"/>
<rect x="434.00" y="213.9" width="0.55" height="13.199999999999989" fill="rgb(219,219,219)"/>
<rect x="434.50" y="213.9" width="0.55" height="13.199999999999989" fill="rgb(236,236,236)"/>
<rect x="435.00" y="213.9" width="0.55" height="13.199999999999989" fill="rgb(181,181,181)"/>
<rect x="435.50" y="213.9" width="0.55" height="13.199999999999989" fill="rgb(213,213,213)"/>
<rect x="436.00" y="213.9" width="0.55" height="13.199999999999989" fill="rgb(162,162,162)"/>
<rect x="436.50" y="213.9" width="0.55" height="13.199999999999989" fill="rgb(178,178,178)"/>
<rect x="437.00" y="213.9" width="0.55" height="13.199999999999989" fill="rgb(153,153,153)"/>
<rect x="437.50" y="213.9" width="0.55" height="13.199999999999989" fill="rgb(180,180,180)"/>
<rect x="438.00" y="213.9" width="0.55" height="13.199999999999989" fill="rgb(217,217,217)"/>
<rect x="438.50" y="213.9" width="0.55" height="13.199999999999989" fill="rgb(143,143,143)"/>
<rect x="439.00" y="213.9" width="0.55" height="13.199999999999989" fill="rgb(66,66,66)"/>
<rect x="439.50" y="213.9" width="0.55" height="13.199999999999989" fill="rgb(142,142,142)"/>
<rect x="440.00" y="213.9" width="0.55" height="13.199999999999989" fill="rgb(128,128,128)"/>
<rect x="440.50" y="213.9" width="0.55" height="13.199999999999989" fill="rgb(189,189,189)"/>
<rect x="441.00" y="213.9" width="0.55" height="13.199999999999989" fill="rgb(191,191,191)"/>
<rect x="441.50" y="213.9" width="0.55" height="13.199999999999989" fill="rgb(215,215,215)"/>
<rect x="442.00" y="213.9" width="0.55" height="13.199999999999989" fill="rgb(204,204,204)"/>
<rect x="442.50" y="213.9" width="0.55" height="13.199999999999989" fill="rgb(223,223,223)"/>
<rect x="443.00" y="213.9" width="0.55" height="13.199999999999989" fill="rgb(192,192,192)"/>
<rect x="443.50" y="213.9" width="0.55" height="13.199999999999989" fill="rgb(227,227,227)"/>
<rect x="444.00" y="213.9" width="0.55" height="13.199999999999989" fill="rgb(219,219,219)"/>
<rect x="444.50" y="213.9" width="0.55" height="13.199999999999989" fill="rgb(93,93,93)"/>
<rect x="445.00" y="213.9" width="0.55" height="13.199999999999989" fill="rgb(157,157,157)"/>
<rect x="445.50" y="213.9" width="0.55" height="13.199999999999989" fill="rgb(226,226,226)"/>
<rect x="446.00" y="213.9" width="0.55" height="13.199999999999989" fill="rgb(244,244,244)"/>
<rect x="446.50" y="213.9" width="0.55" height="13.199999999999989" fill="rgb(231,231,231)"/>
<rect x="447.00" y="213.9" width="0.55" height="13.199999999999989" fill="rgb(185,185,185)"/>
<rect x="447.50" y="213.9" width="0.55" height="13.199999999999989" fill="rgb(191,191,191)"/>
<rect x="448.00" y="213.9" width="0.55" height="13.199999999999989" fill="rgb(201,201,201)"/>
<rect x="448.50" y="213.9" width="0.55" height="13.199999999999989" fill="rgb(218,218,218)"/>
<rect x="449.00" y="213.9" width="0.55" height="13.199999999999989" fill="rgb(220,220,220)"/>
<rect x="449.50" y="213.9" width="0.55" height="13.199999999999989" fill="rgb(241,241,241)"/>
<rect x="450.00" y="213.9" width="0.55" height="13.199999999999989" fill="rgb(220,220,220)"/>
<rect x="450.50" y="213.9" width="0.55" height="13.199999999999989" fill="rgb(214,214,214)"/>
<rect x="451.00" y="213.9" width="0.55" height="13.199999999999989" fill="rgb(241,241,241)"/>
<rect x="451.50" y="213.9" width="0.55" height="13.199999999999989" fill="rgb(226,226,226)"/>
<rect x="452.00" y="213.9" width="0.55" height="13.199999999999989" fill="rgb(174,174,174)"/>
<rect x="452.50" y="213.9" width="0.55" height="13.199999999999989" fill="rgb(229,229,229)"/>
<rect x="453.00" y="213.9" width="0.55" height="13.199999999999989" fill="rgb(221,221,221)"/>
<rect x="453.50" y="213.9" width="0.55" height="13.199999999999989" fill="rgb(233,233,233)"/>
<rect x="454.00" y="213.9" width="0.55" height="13.199999999999989" fill="rgb(231,231,231)"/>
<rect x="454.50" y="213.9" width="0.55" height="13.199999999999989" fill="rgb(227,227,227)"/>
<rect x="455.00" y="213.9" width="0.55" height="13.199999999999989" fill="rgb(216,216,216)"/>
<rect x="455.50" y="213.9" width="0.55" height="13.199999999999989" fill="rgb(219,219,219)"/>
<rect x="456.00" y="213.9" width="0.55" height="13.199999999999989" fill="rgb(192,192,192)"/>
<rect x="456.50" y="213.9" width="0.55" height="13.199999999999989" fill="rgb(189,189,189)"/>
<rect x="457.00" y="213.9" width="0.55" height="13.199999999999989" fill="rgb(190,190,190)"/>
<rect x="457.50" y="213.9" width="0.55" height="13.199999999999989" fill="rgb(86,86,86)"/>
<rect x="458.00" y="213.9" width="0.55" height="13.199999999999989" fill="rgb(200,200,200)"/>
<rect x="458.50" y="213.9" width="0.55" height="13.199999999999989" fill="rgb(186,186,186)"/>
<rect x="459.00" y="213.9" width="0.55" height="13.199999999999989" fill="rgb(228,228,228)"/>
<rect x="373" y="227.1" width="86.5" height="3.5" fill="url(#cbar)"/>
<polyline points="372.7,211.3 373.7,206.5 375.6,205.5 377.5,203.6 378.5,199.2 380.4,196.8 382.3,192 384.3,187.2 386.2,183.4 389.1,180.5 392,177.2 394.8,175.7 398.7,174.2 401.6,174.7 404.5,176.7 408.3,178.6 412.2,180.5 416,183.8 419.8,187.2 423.7,191 427.5,194.9 431.4,197.8 435.2,199.7 439.1,202.6 442.9,205.5 446.8,208.4 448.7,206.5 451.6,207.4 455.4,210.7 458.3,209.9 460.2,211.3" fill="none" stroke="#5cb040" stroke-width="1.1" stroke-linejoin="round"/>
<rect x="367.0" y="247.4" width="95.5" height="59.20000000000002" fill="#fff" stroke="#b8b8b8" stroke-width="0.8"/>
<rect x="367.4" y="247.8" width="5.299999999999988" height="58.40000000000002" fill="#f6f6f6"/>
<line x1="372.7" y1="247.4" x2="372.7" y2="306.6" stroke="#c8c8c8" stroke-width="0.6"/>
<line x1="372.7" y1="287.50" x2="462.5" y2="287.50" stroke="#ececec" stroke-width="0.5"/>
<rect x="368.6" y="286.80" width="3.4" height="1.3" fill="#9a9a9a" opacity="0.8"/>
<line x1="372.7" y1="283.05" x2="462.5" y2="283.05" stroke="#ececec" stroke-width="0.5"/>
<rect x="368.6" y="282.35" width="3.4" height="1.3" fill="#9a9a9a" opacity="0.8"/>
<line x1="372.7" y1="278.60" x2="462.5" y2="278.60" stroke="#ececec" stroke-width="0.5"/>
<rect x="368.6" y="277.90" width="3.4" height="1.3" fill="#9a9a9a" opacity="0.8"/>
<line x1="372.7" y1="274.15" x2="462.5" y2="274.15" stroke="#ececec" stroke-width="0.5"/>
<rect x="368.6" y="273.45" width="3.4" height="1.3" fill="#9a9a9a" opacity="0.8"/>
<line x1="372.7" y1="269.70" x2="462.5" y2="269.70" stroke="#ececec" stroke-width="0.5"/>
<rect x="368.6" y="269.00" width="3.4" height="1.3" fill="#9a9a9a" opacity="0.8"/>
<line x1="372.7" y1="265.25" x2="462.5" y2="265.25" stroke="#ececec" stroke-width="0.5"/>
<rect x="368.6" y="264.55" width="3.4" height="1.3" fill="#9a9a9a" opacity="0.8"/>
<line x1="372.7" y1="260.80" x2="462.5" y2="260.80" stroke="#ececec" stroke-width="0.5"/>
<rect x="368.6" y="260.10" width="3.4" height="1.3" fill="#9a9a9a" opacity="0.8"/>
<line x1="372.7" y1="256.35" x2="462.5" y2="256.35" stroke="#ececec" stroke-width="0.5"/>
<rect x="368.6" y="255.65" width="3.4" height="1.3" fill="#9a9a9a" opacity="0.8"/>
<line x1="372.7" y1="251.90" x2="462.5" y2="251.90" stroke="#ececec" stroke-width="0.5"/>
<rect x="368.6" y="251.20" width="3.4" height="1.3" fill="#9a9a9a" opacity="0.8"/>
<line x1="412.2" y1="247.4" x2="412.2" y2="287.5" stroke="#ececec" stroke-width="0.5"/>
<line x1="451.6" y1="247.4" x2="451.6" y2="287.5" stroke="#ececec" stroke-width="0.5"/>
<line x1="372.7" y1="287.5" x2="462.5" y2="287.5" stroke="#bdbdbd" stroke-width="0.7"/>
<rect x="373.00" y="290.3" width="0.55" height="12.699999999999989" fill="rgb(26,26,26)"/>
<rect x="373.50" y="290.3" width="0.55" height="12.699999999999989" fill="rgb(17,17,17)"/>
<rect x="374.00" y="290.3" width="0.55" height="12.699999999999989" fill="rgb(30,30,30)"/>
<rect x="374.50" y="290.3" width="0.55" height="12.699999999999989" fill="rgb(27,27,27)"/>
<rect x="375.00" y="290.3" width="0.55" height="12.699999999999989" fill="rgb(46,46,46)"/>
<rect x="375.50" y="290.3" width="0.55" height="12.699999999999989" fill="rgb(209,209,209)"/>
<rect x="376.00" y="290.3" width="0.55" height="12.699999999999989" fill="rgb(247,247,247)"/>
<rect x="376.50" y="290.3" width="0.55" height="12.699999999999989" fill="rgb(252,252,252)"/>
<rect x="377.00" y="290.3" width="0.55" height="12.699999999999989" fill="rgb(228,228,228)"/>
<rect x="377.50" y="290.3" width="0.55" height="12.699999999999989" fill="rgb(117,117,117)"/>
<rect x="378.00" y="290.3" width="0.55" height="12.699999999999989" fill="rgb(92,92,92)"/>
<rect x="378.50" y="290.3" width="0.55" height="12.699999999999989" fill="rgb(47,47,47)"/>
<rect x="379.00" y="290.3" width="0.55" height="12.699999999999989" fill="rgb(35,35,35)"/>
<rect x="379.50" y="290.3" width="0.55" height="12.699999999999989" fill="rgb(90,90,90)"/>
<rect x="380.00" y="290.3" width="0.55" height="12.699999999999989" fill="rgb(48,48,48)"/>
<rect x="380.50" y="290.3" width="0.55" height="12.699999999999989" fill="rgb(78,78,78)"/>
<rect x="381.00" y="290.3" width="0.55" height="12.699999999999989" fill="rgb(66,66,66)"/>
<rect x="381.50" y="290.3" width="0.55" height="12.699999999999989" fill="rgb(66,66,66)"/>
<rect x="382.00" y="290.3" width="0.55" height="12.699999999999989" fill="rgb(71,71,71)"/>
<rect x="382.50" y="290.3" width="0.55" height="12.699999999999989" fill="rgb(111,111,111)"/>
<rect x="383.00" y="290.3" width="0.55" height="12.699999999999989" fill="rgb(76,76,76)"/>
<rect x="383.50" y="290.3" width="0.55" height="12.699999999999989" fill="rgb(74,74,74)"/>
<rect x="384.00" y="290.3" width="0.55" height="12.699999999999989" fill="rgb(45,45,45)"/>
<rect x="384.50" y="290.3" width="0.55" height="12.699999999999989" fill="rgb(101,101,101)"/>
<rect x="385.00" y="290.3" width="0.55" height="12.699999999999989" fill="rgb(197,197,197)"/>
<rect x="385.50" y="290.3" width="0.55" height="12.699999999999989" fill="rgb(91,91,91)"/>
<rect x="386.00" y="290.3" width="0.55" height="12.699999999999989" fill="rgb(101,101,101)"/>
<rect x="386.50" y="290.3" width="0.55" height="12.699999999999989" fill="rgb(50,50,50)"/>
<rect x="387.00" y="290.3" width="0.55" height="12.699999999999989" fill="rgb(78,78,78)"/>
<rect x="387.50" y="290.3" width="0.55" height="12.699999999999989" fill="rgb(198,198,198)"/>
<rect x="388.00" y="290.3" width="0.55" height="12.699999999999989" fill="rgb(125,125,125)"/>
<rect x="388.50" y="290.3" width="0.55" height="12.699999999999989" fill="rgb(201,201,201)"/>
<rect x="389.00" y="290.3" width="0.55" height="12.699999999999989" fill="rgb(90,90,90)"/>
<rect x="389.50" y="290.3" width="0.55" height="12.699999999999989" fill="rgb(39,39,39)"/>
<rect x="390.00" y="290.3" width="0.55" height="12.699999999999989" fill="rgb(64,64,64)"/>
<rect x="390.50" y="290.3" width="0.55" height="12.699999999999989" fill="rgb(57,57,57)"/>
<rect x="391.00" y="290.3" width="0.55" height="12.699999999999989" fill="rgb(87,87,87)"/>
<rect x="391.50" y="290.3" width="0.55" height="12.699999999999989" fill="rgb(73,73,73)"/>
<rect x="392.00" y="290.3" width="0.55" height="12.699999999999989" fill="rgb(75,75,75)"/>
<rect x="392.50" y="290.3" width="0.55" height="12.699999999999989" fill="rgb(68,68,68)"/>
<rect x="393.00" y="290.3" width="0.55" height="12.699999999999989" fill="rgb(77,77,77)"/>
<rect x="393.50" y="290.3" width="0.55" height="12.699999999999989" fill="rgb(67,67,67)"/>
<rect x="394.00" y="290.3" width="0.55" height="12.699999999999989" fill="rgb(46,46,46)"/>
<rect x="394.50" y="290.3" width="0.55" height="12.699999999999989" fill="rgb(83,83,83)"/>
<rect x="395.00" y="290.3" width="0.55" height="12.699999999999989" fill="rgb(69,69,69)"/>
<rect x="395.50" y="290.3" width="0.55" height="12.699999999999989" fill="rgb(61,61,61)"/>
<rect x="396.00" y="290.3" width="0.55" height="12.699999999999989" fill="rgb(32,32,32)"/>
<rect x="396.50" y="290.3" width="0.55" height="12.699999999999989" fill="rgb(49,49,49)"/>
<rect x="397.00" y="290.3" width="0.55" height="12.699999999999989" fill="rgb(80,80,80)"/>
<rect x="397.50" y="290.3" width="0.55" height="12.699999999999989" fill="rgb(35,35,35)"/>
<rect x="398.00" y="290.3" width="0.55" height="12.699999999999989" fill="rgb(45,45,45)"/>
<rect x="398.50" y="290.3" width="0.55" height="12.699999999999989" fill="rgb(46,46,46)"/>
<rect x="399.00" y="290.3" width="0.55" height="12.699999999999989" fill="rgb(66,66,66)"/>
<rect x="399.50" y="290.3" width="0.55" height="12.699999999999989" fill="rgb(70,70,70)"/>
<rect x="400.00" y="290.3" width="0.55" height="12.699999999999989" fill="rgb(99,99,99)"/>
<rect x="400.50" y="290.3" width="0.55" height="12.699999999999989" fill="rgb(197,197,197)"/>
<rect x="401.00" y="290.3" width="0.55" height="12.699999999999989" fill="rgb(122,122,122)"/>
<rect x="401.50" y="290.3" width="0.55" height="12.699999999999989" fill="rgb(102,102,102)"/>
<rect x="402.00" y="290.3" width="0.55" height="12.699999999999989" fill="rgb(81,81,81)"/>
<rect x="402.50" y="290.3" width="0.55" height="12.699999999999989" fill="rgb(64,64,64)"/>
<rect x="403.00" y="290.3" width="0.55" height="12.699999999999989" fill="rgb(47,47,47)"/>
<rect x="403.50" y="290.3" width="0.55" height="12.699999999999989" fill="rgb(30,30,30)"/>
<rect x="404.00" y="290.3" width="0.55" height="12.699999999999989" fill="rgb(84,84,84)"/>
<rect x="404.50" y="290.3" width="0.55" height="12.699999999999989" fill="rgb(60,60,60)"/>
<rect x="405.00" y="290.3" width="0.55" height="12.699999999999989" fill="rgb(78,78,78)"/>
<rect x="405.50" y="290.3" width="0.55" height="12.699999999999989" fill="rgb(67,67,67)"/>
<rect x="406.00" y="290.3" width="0.55" height="12.699999999999989" fill="rgb(47,47,47)"/>
<rect x="406.50" y="290.3" width="0.55" height="12.699999999999989" fill="rgb(86,86,86)"/>
<rect x="407.00" y="290.3" width="0.55" height="12.699999999999989" fill="rgb(61,61,61)"/>
<rect x="407.50" y="290.3" width="0.55" height="12.699999999999989" fill="rgb(51,51,51)"/>
<rect x="408.00" y="290.3" width="0.55" height="12.699999999999989" fill="rgb(41,41,41)"/>
<rect x="408.50" y="290.3" width="0.55" height="12.699999999999989" fill="rgb(79,79,79)"/>
<rect x="409.00" y="290.3" width="0.55" height="12.699999999999989" fill="rgb(63,63,63)"/>
<rect x="409.50" y="290.3" width="0.55" height="12.699999999999989" fill="rgb(59,59,59)"/>
<rect x="410.00" y="290.3" width="0.55" height="12.699999999999989" fill="rgb(48,48,48)"/>
<rect x="410.50" y="290.3" width="0.55" height="12.699999999999989" fill="rgb(64,64,64)"/>
<rect x="411.00" y="290.3" width="0.55" height="12.699999999999989" fill="rgb(60,60,60)"/>
<rect x="411.50" y="290.3" width="0.55" height="12.699999999999989" fill="rgb(69,69,69)"/>
<rect x="412.00" y="290.3" width="0.55" height="12.699999999999989" fill="rgb(87,87,87)"/>
<rect x="412.50" y="290.3" width="0.55" height="12.699999999999989" fill="rgb(107,107,107)"/>
<rect x="413.00" y="290.3" width="0.55" height="12.699999999999989" fill="rgb(102,102,102)"/>
<rect x="413.50" y="290.3" width="0.55" height="12.699999999999989" fill="rgb(65,65,65)"/>
<rect x="414.00" y="290.3" width="0.55" height="12.699999999999989" fill="rgb(114,114,114)"/>
<rect x="414.50" y="290.3" width="0.55" height="12.699999999999989" fill="rgb(78,78,78)"/>
<rect x="415.00" y="290.3" width="0.55" height="12.699999999999989" fill="rgb(75,75,75)"/>
<rect x="415.50" y="290.3" width="0.55" height="12.699999999999989" fill="rgb(81,81,81)"/>
<rect x="416.00" y="290.3" width="0.55" height="12.699999999999989" fill="rgb(129,129,129)"/>
<rect x="416.50" y="290.3" width="0.55" height="12.699999999999989" fill="rgb(81,81,81)"/>
<rect x="417.00" y="290.3" width="0.55" height="12.699999999999989" fill="rgb(135,135,135)"/>
<rect x="417.50" y="290.3" width="0.55" height="12.699999999999989" fill="rgb(103,103,103)"/>
<rect x="418.00" y="290.3" width="0.55" height="12.699999999999989" fill="rgb(58,58,58)"/>
<rect x="418.50" y="290.3" width="0.55" height="12.699999999999989" fill="rgb(67,67,67)"/>
<rect x="419.00" y="290.3" width="0.55" height="12.699999999999989" fill="rgb(117,117,117)"/>
<rect x="419.50" y="290.3" width="0.55" height="12.699999999999989" fill="rgb(144,144,144)"/>
<rect x="420.00" y="290.3" width="0.55" height="12.699999999999989" fill="rgb(153,153,153)"/>
<rect x="420.50" y="290.3" width="0.55" height="12.699999999999989" fill="rgb(93,93,93)"/>
<rect x="421.00" y="290.3" width="0.55" height="12.699999999999989" fill="rgb(126,126,126)"/>
<rect x="421.50" y="290.3" width="0.55" height="12.699999999999989" fill="rgb(106,106,106)"/>
<rect x="422.00" y="290.3" width="0.55" height="12.699999999999989" fill="rgb(55,55,55)"/>
<rect x="422.50" y="290.3" width="0.55" height="12.699999999999989" fill="rgb(88,88,88)"/>
<rect x="423.00" y="290.3" width="0.55" height="12.699999999999989" fill="rgb(67,67,67)"/>
<rect x="423.50" y="290.3" width="0.55" height="12.699999999999989" fill="rgb(121,121,121)"/>
<rect x="424.00" y="290.3" width="0.55" height="12.699999999999989" fill="rgb(41,41,41)"/>
<rect x="424.50" y="290.3" width="0.55" height="12.699999999999989" fill="rgb(29,29,29)"/>
<rect x="425.00" y="290.3" width="0.55" height="12.699999999999989" fill="rgb(55,55,55)"/>
<rect x="425.50" y="290.3" width="0.55" height="12.699999999999989" fill="rgb(192,192,192)"/>
<rect x="426.00" y="290.3" width="0.55" height="12.699999999999989" fill="rgb(135,135,135)"/>
<rect x="426.50" y="290.3" width="0.55" height="12.699999999999989" fill="rgb(97,97,97)"/>
<rect x="427.00" y="290.3" width="0.55" height="12.699999999999989" fill="rgb(117,117,117)"/>
<rect x="427.50" y="290.3" width="0.55" height="12.699999999999989" fill="rgb(188,188,188)"/>
<rect x="428.00" y="290.3" width="0.55" height="12.699999999999989" fill="rgb(63,63,63)"/>
<rect x="428.50" y="290.3" width="0.55" height="12.699999999999989" fill="rgb(63,63,63)"/>
<rect x="429.00" y="290.3" width="0.55" height="12.699999999999989" fill="rgb(157,157,157)"/>
<rect x="429.50" y="290.3" width="0.55" height="12.699999999999989" fill="rgb(212,212,212)"/>
<rect x="430.00" y="290.3" width="0.55" height="12.699999999999989" fill="rgb(147,147,147)"/>
<rect x="430.50" y="290.3" width="0.55" height="12.699999999999989" fill="rgb(160,160,160)"/>
<rect x="431.00" y="290.3" width="0.55" height="12.699999999999989" fill="rgb(107,107,107)"/>
<rect x="431.50" y="290.3" width="0.55" height="12.699999999999989" fill="rgb(86,86,86)"/>
<rect x="432.00" y="290.3" width="0.55" height="12.699999999999989" fill="rgb(54,54,54)"/>
<rect x="432.50" y="290.3" width="0.55" height="12.699999999999989" fill="rgb(100,100,100)"/>
<rect x="433.00" y="290.3" width="0.55" height="12.699999999999989" fill="rgb(184,184,184)"/>
<rect x="433.50" y="290.3" width="0.55" height="12.699999999999989" fill="rgb(98,98,98)"/>
<rect x="434.00" y="290.3" width="0.55" height="12.699999999999989" fill="rgb(188,188,188)"/>
<rect x="434.50" y="290.3" width="0.55" height="12.699999999999989" fill="rgb(162,162,162)"/>
<rect x="435.00" y="290.3" width="0.55" height="12.699999999999989" fill="rgb(197,197,197)"/>
<rect x="435.50" y="290.3" width="0.55" height="12.699999999999989" fill="rgb(188,188,188)"/>
<rect x="436.00" y="290.3" width="0.55" height="12.699999999999989" fill="rgb(85,85,85)"/>
<rect x="436.50" y="290.3" width="0.55" height="12.699999999999989" fill="rgb(180,180,180)"/>
<rect x="437.00" y="290.3" width="0.55" height="12.699999999999989" fill="rgb(109,109,109)"/>
<rect x="437.50" y="290.3" width="0.55" height="12.699999999999989" fill="rgb(209,209,209)"/>
<rect x="438.00" y="290.3" width="0.55" height="12.699999999999989" fill="rgb(176,176,176)"/>
<rect x="438.50" y="290.3" width="0.55" height="12.699999999999989" fill="rgb(211,211,211)"/>
<rect x="439.00" y="290.3" width="0.55" height="12.699999999999989" fill="rgb(72,72,72)"/>
<rect x="439.50" y="290.3" width="0.55" height="12.699999999999989" fill="rgb(110,110,110)"/>
<rect x="440.00" y="290.3" width="0.55" height="12.699999999999989" fill="rgb(165,165,165)"/>
<rect x="440.50" y="290.3" width="0.55" height="12.699999999999989" fill="rgb(201,201,201)"/>
<rect x="441.00" y="290.3" width="0.55" height="12.699999999999989" fill="rgb(76,76,76)"/>
<rect x="441.50" y="290.3" width="0.55" height="12.699999999999989" fill="rgb(142,142,142)"/>
<rect x="442.00" y="290.3" width="0.55" height="12.699999999999989" fill="rgb(165,165,165)"/>
<rect x="442.50" y="290.3" width="0.55" height="12.699999999999989" fill="rgb(226,226,226)"/>
<rect x="443.00" y="290.3" width="0.55" height="12.699999999999989" fill="rgb(184,184,184)"/>
<rect x="443.50" y="290.3" width="0.55" height="12.699999999999989" fill="rgb(239,239,239)"/>
<rect x="444.00" y="290.3" width="0.55" height="12.699999999999989" fill="rgb(236,236,236)"/>
<rect x="444.50" y="290.3" width="0.55" height="12.699999999999989" fill="rgb(189,189,189)"/>
<rect x="445.00" y="290.3" width="0.55" height="12.699999999999989" fill="rgb(126,126,126)"/>
<rect x="445.50" y="290.3" width="0.55" height="12.699999999999989" fill="rgb(224,224,224)"/>
<rect x="446.00" y="290.3" width="0.55" height="12.699999999999989" fill="rgb(237,237,237)"/>
<rect x="446.50" y="290.3" width="0.55" height="12.699999999999989" fill="rgb(217,217,217)"/>
<rect x="447.00" y="290.3" width="0.55" height="12.699999999999989" fill="rgb(137,137,137)"/>
<rect x="447.50" y="290.3" width="0.55" height="12.699999999999989" fill="rgb(67,67,67)"/>
<rect x="448.00" y="290.3" width="0.55" height="12.699999999999989" fill="rgb(167,167,167)"/>
<rect x="448.50" y="290.3" width="0.55" height="12.699999999999989" fill="rgb(220,220,220)"/>
<rect x="449.00" y="290.3" width="0.55" height="12.699999999999989" fill="rgb(190,190,190)"/>
<rect x="449.50" y="290.3" width="0.55" height="12.699999999999989" fill="rgb(183,183,183)"/>
<rect x="450.00" y="290.3" width="0.55" height="12.699999999999989" fill="rgb(168,168,168)"/>
<rect x="450.50" y="290.3" width="0.55" height="12.699999999999989" fill="rgb(75,75,75)"/>
<rect x="451.00" y="290.3" width="0.55" height="12.699999999999989" fill="rgb(136,136,136)"/>
<rect x="451.50" y="290.3" width="0.55" height="12.699999999999989" fill="rgb(133,133,133)"/>
<rect x="452.00" y="290.3" width="0.55" height="12.699999999999989" fill="rgb(72,72,72)"/>
<rect x="452.50" y="290.3" width="0.55" height="12.699999999999989" fill="rgb(186,186,186)"/>
<rect x="453.00" y="290.3" width="0.55" height="12.699999999999989" fill="rgb(230,230,230)"/>
<rect x="453.50" y="290.3" width="0.55" height="12.699999999999989" fill="rgb(233,233,233)"/>
<rect x="454.00" y="290.3" width="0.55" height="12.699999999999989" fill="rgb(173,173,173)"/>
<rect x="454.50" y="290.3" width="0.55" height="12.699999999999989" fill="rgb(203,203,203)"/>
<rect x="455.00" y="290.3" width="0.55" height="12.699999999999989" fill="rgb(226,226,226)"/>
<rect x="455.50" y="290.3" width="0.55" height="12.699999999999989" fill="rgb(208,208,208)"/>
<rect x="456.00" y="290.3" width="0.55" height="12.699999999999989" fill="rgb(87,87,87)"/>
<rect x="456.50" y="290.3" width="0.55" height="12.699999999999989" fill="rgb(209,209,209)"/>
<rect x="457.00" y="290.3" width="0.55" height="12.699999999999989" fill="rgb(224,224,224)"/>
<rect x="457.50" y="290.3" width="0.55" height="12.699999999999989" fill="rgb(206,206,206)"/>
<rect x="458.00" y="290.3" width="0.55" height="12.699999999999989" fill="rgb(187,187,187)"/>
<rect x="458.50" y="290.3" width="0.55" height="12.699999999999989" fill="rgb(182,182,182)"/>
<rect x="373" y="303.0" width="86.5" height="3.3000000000000114" fill="url(#cbar)"/>
<polyline points="372.7,287.3 373.7,281.5 375.2,275.7 376.6,275.2 377.9,277.1 379.5,271.9 381.4,267.1 384.3,261.3 387.2,256.5 391,253.2 393.9,251.3 397.7,251.3 402.5,251.7 406.4,253.2 410.2,255.5 414.1,259.4 417.9,263.2 421.8,266.7 425.6,269.6 429.5,271.9 433.3,274.4 437.2,276.7 441,278.6 444.8,280.9 448.7,282.5 452.5,284 456.4,285.3 459.3,287.3" fill="none" stroke="#5cb040" stroke-width="1.1" stroke-linejoin="round"/>
<text x="415.5" y="165.6" font-size="8.1" text-anchor="middle" fill="#231f20" textLength="86.8" lengthAdjust="spacingAndGlyphs">Chromosome segregation</text>
<text x="415.5" y="243.2" font-size="8.1" text-anchor="middle" fill="#231f20" textLength="79.4" lengthAdjust="spacingAndGlyphs">Chromosome instability</text>
<text x="361.8" y="238.7" font-size="8.0" text-anchor="middle" fill="#231f20" textLength="57.4" lengthAdjust="spacingAndGlyphs" transform="rotate(-90 361.8 238.7)">Enrichment score</text>
<text x="369.8" y="316.3" font-size="8.0" text-anchor="start" fill="#231f20" textLength="26.2" lengthAdjust="spacingAndGlyphs">TP53+/-</text>
<text x="443.2" y="316.3" font-size="8.0" text-anchor="start" fill="#231f20" textLength="37.4" lengthAdjust="spacingAndGlyphs">TP53;del5q</text>
<line x1="404" y1="314.2" x2="435" y2="314.2" stroke="#231f20" stroke-width="1.2"/>
<path d="M400.3,314.2 L406.3,311.7 L406.3,316.7 Z M438.5,314.2 L432.5,311.7 L432.5,316.7 Z" fill="#231f20"/>
<text x="482.2" y="191.4" font-size="8.0" text-anchor="middle" fill="#231f20" textLength="23.8" lengthAdjust="spacingAndGlyphs">del(5q)</text>
<text x="482.1" y="201.1" font-size="8.0" text-anchor="middle" fill="#231f20" textLength="12.8" lengthAdjust="spacingAndGlyphs">CIN</text>
<line x1="467.3" y1="206.9" x2="496.9" y2="206.9" stroke="#666" stroke-width="1.5"/>
<text x="467.5" y="216.7" font-size="7.2" text-anchor="start" fill="#3a9846" textLength="23.0" lengthAdjust="spacingAndGlyphs" stroke="#3a9846" stroke-width="0.18">LMNB1</text>
<text x="467.5" y="226.32" font-size="7.2" text-anchor="start" fill="#3a9846" textLength="25.2" lengthAdjust="spacingAndGlyphs" stroke="#3a9846" stroke-width="0.18">CEP120</text>
<text x="467.5" y="235.94" font-size="7.2" text-anchor="start" fill="#3a9846" textLength="16.6" lengthAdjust="spacingAndGlyphs" stroke="#3a9846" stroke-width="0.18">SKP1</text>
<text x="467.5" y="245.56" font-size="7.2" text-anchor="start" fill="#3a9846" textLength="19.5" lengthAdjust="spacingAndGlyphs" stroke="#3a9846" stroke-width="0.18">HINT1</text>
<text x="467.5" y="255.17999999999998" font-size="7.2" text-anchor="start" fill="#3a9846" textLength="21.5" lengthAdjust="spacingAndGlyphs" stroke="#3a9846" stroke-width="0.18">UBE2B</text>
<text x="467.5" y="264.79999999999995" font-size="7.2" text-anchor="start" fill="#3a9846" textLength="25.4" lengthAdjust="spacingAndGlyphs" stroke="#3a9846" stroke-width="0.18">SEC24A</text>
<text x="467.5" y="274.41999999999996" font-size="7.2" text-anchor="start" fill="#3a9846" textLength="21.7" lengthAdjust="spacingAndGlyphs" stroke="#3a9846" stroke-width="0.18">RAD50</text>
<text x="7.6" y="343.1" font-size="11" text-anchor="start" fill="#231f20" textLength="5.8" lengthAdjust="spacingAndGlyphs">E</text>
<text x="61" y="355.4" font-size="8.0" text-anchor="middle" fill="#231f20" textLength="25.8" lengthAdjust="spacingAndGlyphs">TP53+/-</text>
<text x="146" y="355.4" font-size="8.0" text-anchor="middle" fill="#231f20" textLength="41.8" lengthAdjust="spacingAndGlyphs">TP53;del(5q)</text>
<text x="7.2" y="388.8" font-size="8.0" text-anchor="start" fill="#231f20" textLength="8" lengthAdjust="spacingAndGlyphs">30</text>
<text x="7.2" y="398.2" font-size="8.0" text-anchor="start" fill="#231f20" textLength="12.8" lengthAdjust="spacingAndGlyphs">min</text>
<text x="7.1" y="457.5" font-size="8.0" text-anchor="start" fill="#231f20" textLength="12.6" lengthAdjust="spacingAndGlyphs">5 hr</text>
<defs>
<radialGradient id="nucA" cx="0.5" cy="0.5" r="0.5"><stop offset="0" stop-color="#4e4474"/><stop offset="0.75" stop-color="#533e70"/><stop offset="1" stop-color="#6a4680"/></radialGradient>
<radialGradient id="nucB" cx="0.5" cy="0.5" r="0.5"><stop offset="0" stop-color="#4a3a66"/><stop offset="0.72" stop-color="#52396a"/><stop offset="1" stop-color="#6e447e"/></radialGradient>
<filter id="nblur" x="-20%" y="-20%" width="140%" height="140%"><feGaussianBlur stdDeviation="0.35"/></filter>
<clipPath id="e1"><rect x="23.3" y="361" width="75.8" height="60.3"/></clipPath>
<clipPath id="e2"><rect x="107" y="361" width="76.1" height="60.3"/></clipPath>
<clipPath id="e3"><rect x="23.3" y="425.1" width="75.8" height="60.6"/></clipPath>
<clipPath id="e4"><rect x="107" y="425.1" width="76.1" height="60.6"/></clipPath>
</defs>
<rect x="23.3" y="361" width="75.8" height="60.3" fill="#22241f"/>
<rect x="107" y="361" width="76.1" height="60.3" fill="#22241f"/>
<rect x="23.3" y="425.1" width="75.8" height="60.6" fill="#22241f"/>
<rect x="107" y="425.1" width="76.1" height="60.6" fill="#22241f"/>
<g clip-path="url(#e1)"><g filter="url(#nblur)" transform="rotate(-15 36.6 376.6)"><ellipse cx="36.6" cy="376.6" rx="8.7" ry="6.0" fill="url(#nucA)"/><circle cx="32.0" cy="373.5" r="0.90" fill="#5a98d0" opacity="0.5"/><circle cx="42.6" cy="375.0" r="0.96" fill="#5a98d0" opacity="0.5"/><circle cx="41.6" cy="377.2" r="0.97" fill="#5a98d0" opacity="0.5"/><circle cx="32.4" cy="372.7" r="0.56" fill="#5a98d0" opacity="0.5"/><circle cx="33.0" cy="377.1" r="0.77" fill="#5a98d0" opacity="0.5"/><circle cx="35.8" cy="376.3" r="0.61" fill="#5a98d0" opacity="0.5"/><circle cx="35.3" cy="381.5" r="0.88" fill="#5a98d0" opacity="0.5"/><circle cx="40.2" cy="380.5" r="0.57" fill="#5a98d0" opacity="0.5"/><circle cx="34.6" cy="375.4" r="0.50" fill="#5a98d0" opacity="0.5"/><circle cx="39.0" cy="374.9" r="0.61" fill="#5a98d0" opacity="0.5"/><circle cx="43.5" cy="376.1" r="0.64" fill="#5a98d0" opacity="0.5"/><circle cx="41.9" cy="375.7" r="0.84" fill="#5a98d0" opacity="0.5"/><circle cx="38.6" cy="381.4" r="0.85" fill="#5a98d0" opacity="0.5"/><circle cx="43.5" cy="375.6" r="0.65" fill="#5a98d0" opacity="0.5"/><circle cx="34.6" cy="378.2" r="0.57" fill="#5a98d0" opacity="0.5"/><circle cx="40.4" cy="377.7" r="0.80" fill="#5a98d0" opacity="0.5"/><circle cx="42.8" cy="376.7" r="0.67" fill="#5a98d0" opacity="0.5"/><circle cx="34.1" cy="380.9" r="0.74" fill="#5a98d0" opacity="0.5"/><circle cx="34.5" cy="379.9" r="0.85" fill="#5a98d0" opacity="0.5"/><circle cx="43.5" cy="378.4" r="0.51" fill="#5a98d0" opacity="0.5"/><circle cx="36.6" cy="371.9" r="0.51" fill="#5a98d0" opacity="0.5"/><circle cx="37.7" cy="373.6" r="0.79" fill="#5a98d0" opacity="0.5"/><circle cx="38.2" cy="376.7" r="0.59" fill="#5a98d0" opacity="0.5"/><circle cx="39.8" cy="376.0" r="0.88" fill="#5a98d0" opacity="0.5"/><circle cx="43.2" cy="374.5" r="0.67" fill="#5a98d0" opacity="0.5"/><circle cx="33.3" cy="379.6" r="0.89" fill="#5a98d0" opacity="0.5"/><circle cx="41.6" cy="379.4" r="0.90" fill="#5a98d0" opacity="0.5"/><circle cx="37.5" cy="375.8" r="0.97" fill="#5a98d0" opacity="0.5"/><circle cx="40.3" cy="378.2" r="0.81" fill="#5a98d0" opacity="0.5"/><circle cx="40.4" cy="375.1" r="0.96" fill="#5a98d0" opacity="0.5"/><circle cx="32.6" cy="375.8" r="0.66" fill="#5a98d0" opacity="0.5"/><circle cx="37.5" cy="377.9" r="0.57" fill="#5a98d0" opacity="0.5"/><circle cx="33.8" cy="371.8" r="0.58" fill="#5a98d0" opacity="0.5"/><circle cx="43.7" cy="378.1" r="0.77" fill="#5a98d0" opacity="0.5"/><circle cx="33.6" cy="378.0" r="0.80" fill="#5a98d0" opacity="0.5"/><circle cx="38.9" cy="373.5" r="0.71" fill="#5a98d0" opacity="0.5"/></g></g>
<g clip-path="url(#e1)"><g filter="url(#nblur)" transform="rotate(0 52.3 372.2)"><ellipse cx="52.3" cy="372.2" rx="7.1" ry="7.9" fill="url(#nucA)"/><circle cx="57.8" cy="374.4" r="0.52" fill="#5a98d0" opacity="0.5"/><circle cx="46.7" cy="372.5" r="0.57" fill="#5a98d0" opacity="0.5"/><circle cx="51.6" cy="365.6" r="0.82" fill="#5a98d0" opacity="0.5"/><circle cx="52.8" cy="370.0" r="0.72" fill="#5a98d0" opacity="0.5"/><circle cx="55.6" cy="377.2" r="0.65" fill="#5a98d0" opacity="0.5"/><circle cx="46.5" cy="374.2" r="0.93" fill="#5a98d0" opacity="0.5"/><circle cx="56.4" cy="371.5" r="0.74" fill="#5a98d0" opacity="0.5"/><circle cx="51.8" cy="367.5" r="0.65" fill="#5a98d0" opacity="0.5"/><circle cx="50.4" cy="373.7" r="0.69" fill="#5a98d0" opacity="0.5"/><circle cx="58.3" cy="371.7" r="0.81" fill="#5a98d0" opacity="0.5"/><circle cx="48.7" cy="372.2" r="0.54" fill="#5a98d0" opacity="0.5"/><circle cx="51.5" cy="378.1" r="0.93" fill="#5a98d0" opacity="0.5"/><circle cx="48.8" cy="376.8" r="0.89" fill="#5a98d0" opacity="0.5"/><circle cx="50.6" cy="367.0" r="0.88" fill="#5a98d0" opacity="0.5"/><circle cx="48.9" cy="376.5" r="0.64" fill="#5a98d0" opacity="0.5"/><circle cx="47.0" cy="372.7" r="0.85" fill="#5a98d0" opacity="0.5"/><circle cx="50.7" cy="378.6" r="0.82" fill="#5a98d0" opacity="0.5"/><circle cx="51.7" cy="371.8" r="0.77" fill="#5a98d0" opacity="0.5"/><circle cx="52.3" cy="377.8" r="0.73" fill="#5a98d0" opacity="0.5"/><circle cx="54.3" cy="367.2" r="0.90" fill="#5a98d0" opacity="0.5"/><circle cx="49.5" cy="376.7" r="0.87" fill="#5a98d0" opacity="0.5"/><circle cx="54.0" cy="368.7" r="0.92" fill="#5a98d0" opacity="0.5"/><circle cx="55.8" cy="368.1" r="0.99" fill="#5a98d0" opacity="0.5"/><circle cx="56.5" cy="370.9" r="0.76" fill="#5a98d0" opacity="0.5"/><circle cx="55.1" cy="377.6" r="0.97" fill="#5a98d0" opacity="0.5"/><circle cx="47.3" cy="373.0" r="0.86" fill="#5a98d0" opacity="0.5"/><circle cx="52.0" cy="369.4" r="0.89" fill="#5a98d0" opacity="0.5"/><circle cx="47.9" cy="369.5" r="0.71" fill="#5a98d0" opacity="0.5"/><circle cx="48.5" cy="368.0" r="0.82" fill="#5a98d0" opacity="0.5"/><circle cx="52.1" cy="371.1" r="0.58" fill="#5a98d0" opacity="0.5"/><circle cx="47.7" cy="374.2" r="0.61" fill="#5a98d0" opacity="0.5"/><circle cx="50.4" cy="367.2" r="0.52" fill="#5a98d0" opacity="0.5"/><circle cx="49.4" cy="372.8" r="0.53" fill="#5a98d0" opacity="0.5"/><circle cx="54.6" cy="375.0" r="0.59" fill="#5a98d0" opacity="0.5"/><circle cx="52.7" cy="373.4" r="0.73" fill="#5a98d0" opacity="0.5"/><circle cx="48.8" cy="375.8" r="0.80" fill="#5a98d0" opacity="0.5"/><circle cx="52.7" cy="378.6" r="0.50" fill="#5a98d0" opacity="0.5"/><circle cx="49.6" cy="374.2" r="0.71" fill="#5a98d0" opacity="0.5"/><circle cx="56.5" cy="376.3" r="0.69" fill="#5a98d0" opacity="0.5"/></g></g>
<g clip-path="url(#e1)"><g filter="url(#nblur)" transform="rotate(-20 67.3 373)"><ellipse cx="67.3" cy="373" rx="6.3" ry="7.9" fill="url(#nucA)"/><circle cx="71.4" cy="374.2" r="0.55" fill="#5a98d0" opacity="0.5"/><circle cx="64.3" cy="371.9" r="0.79" fill="#5a98d0" opacity="0.5"/><circle cx="72.0" cy="371.4" r="0.71" fill="#5a98d0" opacity="0.5"/><circle cx="69.0" cy="368.0" r="0.68" fill="#5a98d0" opacity="0.5"/><circle cx="69.9" cy="377.1" r="0.78" fill="#5a98d0" opacity="0.5"/><circle cx="72.4" cy="371.2" r="0.80" fill="#5a98d0" opacity="0.5"/><circle cx="64.3" cy="378.2" r="0.50" fill="#5a98d0" opacity="0.5"/><circle cx="70.5" cy="376.2" r="0.81" fill="#5a98d0" opacity="0.5"/><circle cx="70.0" cy="377.2" r="0.95" fill="#5a98d0" opacity="0.5"/><circle cx="64.8" cy="376.1" r="0.61" fill="#5a98d0" opacity="0.5"/><circle cx="65.9" cy="379.5" r="0.69" fill="#5a98d0" opacity="0.5"/><circle cx="72.3" cy="371.4" r="0.80" fill="#5a98d0" opacity="0.5"/><circle cx="67.0" cy="379.7" r="0.75" fill="#5a98d0" opacity="0.5"/><circle cx="64.7" cy="374.9" r="0.99" fill="#5a98d0" opacity="0.5"/><circle cx="64.4" cy="373.2" r="0.74" fill="#5a98d0" opacity="0.5"/><circle cx="70.4" cy="376.7" r="0.72" fill="#5a98d0" opacity="0.5"/><circle cx="66.0" cy="378.8" r="0.91" fill="#5a98d0" opacity="0.5"/><circle cx="71.2" cy="373.4" r="0.64" fill="#5a98d0" opacity="0.5"/><circle cx="71.7" cy="370.6" r="0.62" fill="#5a98d0" opacity="0.5"/><circle cx="67.1" cy="375.7" r="0.99" fill="#5a98d0" opacity="0.5"/><circle cx="66.2" cy="378.1" r="0.74" fill="#5a98d0" opacity="0.5"/><circle cx="64.7" cy="368.8" r="0.87" fill="#5a98d0" opacity="0.5"/><circle cx="70.8" cy="377.0" r="0.65" fill="#5a98d0" opacity="0.5"/><circle cx="64.2" cy="372.2" r="0.65" fill="#5a98d0" opacity="0.5"/><circle cx="63.7" cy="372.1" r="0.68" fill="#5a98d0" opacity="0.5"/><circle cx="67.2" cy="367.8" r="0.52" fill="#5a98d0" opacity="0.5"/><circle cx="67.2" cy="377.6" r="0.96" fill="#5a98d0" opacity="0.5"/><circle cx="70.4" cy="369.8" r="0.51" fill="#5a98d0" opacity="0.5"/><circle cx="67.9" cy="368.6" r="0.79" fill="#5a98d0" opacity="0.5"/><circle cx="66.2" cy="367.8" r="0.74" fill="#5a98d0" opacity="0.5"/><circle cx="70.2" cy="370.8" r="0.70" fill="#5a98d0" opacity="0.5"/><circle cx="68.7" cy="370.6" r="0.65" fill="#5a98d0" opacity="0.5"/><circle cx="68.0" cy="371.5" r="0.92" fill="#5a98d0" opacity="0.5"/><circle cx="66.1" cy="368.8" r="0.64" fill="#5a98d0" opacity="0.5"/></g></g>
<g clip-path="url(#e1)"><g filter="url(#nblur)" transform="rotate(-10 43.7 400.6)"><ellipse cx="43.7" cy="400.6" rx="6.0" ry="7.6" fill="url(#nucA)"/><circle cx="44.6" cy="394.5" r="0.57" fill="#5a98d0" opacity="0.5"/><circle cx="39.9" cy="401.3" r="0.75" fill="#5a98d0" opacity="0.5"/><circle cx="42.7" cy="402.8" r="0.79" fill="#5a98d0" opacity="0.5"/><circle cx="44.2" cy="399.0" r="0.62" fill="#5a98d0" opacity="0.5"/><circle cx="45.6" cy="395.3" r="0.83" fill="#5a98d0" opacity="0.5"/><circle cx="48.0" cy="401.5" r="0.99" fill="#5a98d0" opacity="0.5"/><circle cx="48.0" cy="400.5" r="0.52" fill="#5a98d0" opacity="0.5"/><circle cx="45.0" cy="398.0" r="0.82" fill="#5a98d0" opacity="0.5"/><circle cx="47.9" cy="399.0" r="0.57" fill="#5a98d0" opacity="0.5"/><circle cx="42.4" cy="406.6" r="0.57" fill="#5a98d0" opacity="0.5"/><circle cx="41.2" cy="397.9" r="0.58" fill="#5a98d0" opacity="0.5"/><circle cx="42.9" cy="399.7" r="0.55" fill="#5a98d0" opacity="0.5"/><circle cx="42.7" cy="401.8" r="0.53" fill="#5a98d0" opacity="0.5"/><circle cx="39.7" cy="398.0" r="0.94" fill="#5a98d0" opacity="0.5"/><circle cx="46.0" cy="403.8" r="0.66" fill="#5a98d0" opacity="0.5"/><circle cx="40.8" cy="397.9" r="0.97" fill="#5a98d0" opacity="0.5"/><circle cx="42.8" cy="401.7" r="0.85" fill="#5a98d0" opacity="0.5"/><circle cx="46.1" cy="404.8" r="0.75" fill="#5a98d0" opacity="0.5"/><circle cx="47.0" cy="398.0" r="0.81" fill="#5a98d0" opacity="0.5"/><circle cx="43.4" cy="405.4" r="0.63" fill="#5a98d0" opacity="0.5"/><circle cx="43.7" cy="395.9" r="0.57" fill="#5a98d0" opacity="0.5"/><circle cx="44.0" cy="404.6" r="0.87" fill="#5a98d0" opacity="0.5"/><circle cx="45.6" cy="405.6" r="0.83" fill="#5a98d0" opacity="0.5"/><circle cx="47.3" cy="403.3" r="0.55" fill="#5a98d0" opacity="0.5"/><circle cx="46.5" cy="404.2" r="0.62" fill="#5a98d0" opacity="0.5"/><circle cx="46.3" cy="397.4" r="0.66" fill="#5a98d0" opacity="0.5"/><circle cx="44.0" cy="399.5" r="0.86" fill="#5a98d0" opacity="0.5"/><circle cx="45.6" cy="401.4" r="0.98" fill="#5a98d0" opacity="0.5"/><circle cx="42.7" cy="397.8" r="0.56" fill="#5a98d0" opacity="0.5"/><circle cx="47.8" cy="399.7" r="0.91" fill="#5a98d0" opacity="0.5"/><circle cx="46.3" cy="404.6" r="0.68" fill="#5a98d0" opacity="0.5"/></g></g>
<g clip-path="url(#e1)"><g filter="url(#nblur)" transform="rotate(0 71.3 403)"><ellipse cx="71.3" cy="403" rx="7.6" ry="7.6" fill="url(#nucA)"/><circle cx="71.7" cy="406.8" r="0.81" fill="#5a98d0" opacity="0.5"/><circle cx="68.9" cy="406.3" r="0.57" fill="#5a98d0" opacity="0.5"/><circle cx="73.9" cy="398.4" r="0.90" fill="#5a98d0" opacity="0.5"/><circle cx="65.8" cy="405.5" r="0.76" fill="#5a98d0" opacity="0.5"/><circle cx="67.2" cy="400.3" r="0.87" fill="#5a98d0" opacity="0.5"/><circle cx="69.7" cy="404.2" r="0.52" fill="#5a98d0" opacity="0.5"/><circle cx="71.7" cy="404.2" r="0.94" fill="#5a98d0" opacity="0.5"/><circle cx="65.6" cy="403.7" r="0.50" fill="#5a98d0" opacity="0.5"/><circle cx="65.2" cy="404.1" r="0.81" fill="#5a98d0" opacity="0.5"/><circle cx="67.3" cy="404.9" r="0.55" fill="#5a98d0" opacity="0.5"/><circle cx="72.8" cy="405.2" r="0.69" fill="#5a98d0" opacity="0.5"/><circle cx="66.7" cy="407.0" r="0.58" fill="#5a98d0" opacity="0.5"/><circle cx="71.2" cy="406.4" r="0.58" fill="#5a98d0" opacity="0.5"/><circle cx="70.6" cy="406.1" r="0.74" fill="#5a98d0" opacity="0.5"/><circle cx="77.5" cy="404.3" r="0.68" fill="#5a98d0" opacity="0.5"/><circle cx="76.3" cy="400.9" r="0.84" fill="#5a98d0" opacity="0.5"/><circle cx="65.0" cy="404.1" r="0.56" fill="#5a98d0" opacity="0.5"/><circle cx="69.6" cy="399.9" r="0.84" fill="#5a98d0" opacity="0.5"/><circle cx="71.0" cy="400.4" r="0.60" fill="#5a98d0" opacity="0.5"/><circle cx="74.4" cy="403.5" r="0.54" fill="#5a98d0" opacity="0.5"/><circle cx="66.1" cy="406.8" r="0.68" fill="#5a98d0" opacity="0.5"/><circle cx="69.6" cy="407.1" r="0.64" fill="#5a98d0" opacity="0.5"/><circle cx="70.7" cy="397.5" r="0.58" fill="#5a98d0" opacity="0.5"/><circle cx="71.6" cy="408.3" r="0.97" fill="#5a98d0" opacity="0.5"/><circle cx="68.7" cy="399.6" r="0.99" fill="#5a98d0" opacity="0.5"/><circle cx="72.9" cy="403.1" r="0.89" fill="#5a98d0" opacity="0.5"/><circle cx="70.1" cy="403.7" r="0.77" fill="#5a98d0" opacity="0.5"/><circle cx="76.0" cy="402.7" r="0.68" fill="#5a98d0" opacity="0.5"/><circle cx="72.7" cy="404.0" r="0.95" fill="#5a98d0" opacity="0.5"/><circle cx="65.0" cy="403.4" r="0.53" fill="#5a98d0" opacity="0.5"/><circle cx="71.4" cy="404.5" r="0.70" fill="#5a98d0" opacity="0.5"/><circle cx="74.4" cy="404.2" r="0.70" fill="#5a98d0" opacity="0.5"/><circle cx="70.8" cy="404.4" r="0.52" fill="#5a98d0" opacity="0.5"/><circle cx="74.0" cy="402.5" r="0.75" fill="#5a98d0" opacity="0.5"/><circle cx="67.4" cy="405.7" r="0.54" fill="#5a98d0" opacity="0.5"/><circle cx="70.5" cy="405.0" r="0.77" fill="#5a98d0" opacity="0.5"/><circle cx="75.7" cy="400.6" r="0.93" fill="#5a98d0" opacity="0.5"/><circle cx="71.5" cy="403.8" r="0.77" fill="#5a98d0" opacity="0.5"/><circle cx="66.4" cy="403.4" r="0.69" fill="#5a98d0" opacity="0.5"/><circle cx="67.4" cy="399.1" r="0.96" fill="#5a98d0" opacity="0.5"/></g></g>
<g clip-path="url(#e1)"><g filter="url(#nblur)" transform="rotate(-30 85.5 395.9)"><ellipse cx="85.5" cy="395.9" rx="7.9" ry="7.1" fill="url(#nucA)"/><circle cx="83.9" cy="399.7" r="0.91" fill="#5a98d0" opacity="0.5"/><circle cx="85.9" cy="397.9" r="0.66" fill="#5a98d0" opacity="0.5"/><circle cx="90.6" cy="398.7" r="0.91" fill="#5a98d0" opacity="0.5"/><circle cx="84.6" cy="397.9" r="0.54" fill="#5a98d0" opacity="0.5"/><circle cx="85.6" cy="397.7" r="0.71" fill="#5a98d0" opacity="0.5"/><circle cx="82.5" cy="394.5" r="0.53" fill="#5a98d0" opacity="0.5"/><circle cx="85.0" cy="394.6" r="0.60" fill="#5a98d0" opacity="0.5"/><circle cx="84.6" cy="399.5" r="0.55" fill="#5a98d0" opacity="0.5"/><circle cx="82.2" cy="397.5" r="0.88" fill="#5a98d0" opacity="0.5"/><circle cx="79.5" cy="393.9" r="0.83" fill="#5a98d0" opacity="0.5"/><circle cx="85.8" cy="391.3" r="0.72" fill="#5a98d0" opacity="0.5"/><circle cx="87.7" cy="391.4" r="0.98" fill="#5a98d0" opacity="0.5"/><circle cx="84.7" cy="390.8" r="0.63" fill="#5a98d0" opacity="0.5"/><circle cx="87.1" cy="392.4" r="0.57" fill="#5a98d0" opacity="0.5"/><circle cx="88.1" cy="396.9" r="0.63" fill="#5a98d0" opacity="0.5"/><circle cx="83.9" cy="393.0" r="0.53" fill="#5a98d0" opacity="0.5"/><circle cx="85.9" cy="391.4" r="0.51" fill="#5a98d0" opacity="0.5"/><circle cx="87.8" cy="396.6" r="0.68" fill="#5a98d0" opacity="0.5"/><circle cx="89.7" cy="391.3" r="0.81" fill="#5a98d0" opacity="0.5"/><circle cx="86.0" cy="399.9" r="0.68" fill="#5a98d0" opacity="0.5"/><circle cx="85.1" cy="396.5" r="0.79" fill="#5a98d0" opacity="0.5"/><circle cx="88.2" cy="391.3" r="0.55" fill="#5a98d0" opacity="0.5"/><circle cx="82.7" cy="395.4" r="0.85" fill="#5a98d0" opacity="0.5"/><circle cx="79.3" cy="397.9" r="0.90" fill="#5a98d0" opacity="0.5"/><circle cx="88.3" cy="398.2" r="0.96" fill="#5a98d0" opacity="0.5"/><circle cx="81.2" cy="396.9" r="0.72" fill="#5a98d0" opacity="0.5"/><circle cx="86.2" cy="390.0" r="0.77" fill="#5a98d0" opacity="0.5"/><circle cx="90.7" cy="395.0" r="0.55" fill="#5a98d0" opacity="0.5"/><circle cx="87.2" cy="392.3" r="0.53" fill="#5a98d0" opacity="0.5"/><circle cx="86.7" cy="395.7" r="0.79" fill="#5a98d0" opacity="0.5"/><circle cx="79.2" cy="396.5" r="0.70" fill="#5a98d0" opacity="0.5"/><circle cx="86.3" cy="399.0" r="0.60" fill="#5a98d0" opacity="0.5"/><circle cx="81.7" cy="394.5" r="0.88" fill="#5a98d0" opacity="0.5"/><circle cx="85.7" cy="399.5" r="0.62" fill="#5a98d0" opacity="0.5"/><circle cx="91.7" cy="395.3" r="0.92" fill="#5a98d0" opacity="0.5"/><circle cx="82.3" cy="393.3" r="0.57" fill="#5a98d0" opacity="0.5"/><circle cx="87.8" cy="392.2" r="0.52" fill="#5a98d0" opacity="0.5"/><circle cx="86.5" cy="397.6" r="0.86" fill="#5a98d0" opacity="0.5"/><circle cx="88.0" cy="394.3" r="0.90" fill="#5a98d0" opacity="0.5"/></g></g>
<g clip-path="url(#e1)"><g filter="url(#nblur)" transform="rotate(0 58.6 420.3)"><ellipse cx="58.6" cy="420.3" rx="6.5" ry="5" fill="url(#nucA)"/><circle cx="56.5" cy="423.5" r="0.93" fill="#5a98d0" opacity="0.5"/><circle cx="55.0" cy="417.6" r="0.69" fill="#5a98d0" opacity="0.5"/><circle cx="62.6" cy="420.5" r="0.79" fill="#5a98d0" opacity="0.5"/><circle cx="60.0" cy="422.8" r="0.66" fill="#5a98d0" opacity="0.5"/><circle cx="61.7" cy="420.7" r="0.69" fill="#5a98d0" opacity="0.5"/><circle cx="54.0" cy="420.8" r="0.70" fill="#5a98d0" opacity="0.5"/><circle cx="63.6" cy="419.9" r="0.96" fill="#5a98d0" opacity="0.5"/><circle cx="57.0" cy="417.0" r="0.77" fill="#5a98d0" opacity="0.5"/><circle cx="59.6" cy="417.8" r="0.80" fill="#5a98d0" opacity="0.5"/><circle cx="56.9" cy="417.5" r="0.64" fill="#5a98d0" opacity="0.5"/><circle cx="60.1" cy="420.9" r="0.68" fill="#5a98d0" opacity="0.5"/><circle cx="54.3" cy="418.5" r="0.86" fill="#5a98d0" opacity="0.5"/><circle cx="56.7" cy="424.2" r="0.64" fill="#5a98d0" opacity="0.5"/><circle cx="58.3" cy="419.2" r="0.88" fill="#5a98d0" opacity="0.5"/><circle cx="56.0" cy="416.6" r="0.95" fill="#5a98d0" opacity="0.5"/><circle cx="56.6" cy="416.7" r="0.87" fill="#5a98d0" opacity="0.5"/><circle cx="56.6" cy="419.0" r="0.76" fill="#5a98d0" opacity="0.5"/><circle cx="60.8" cy="419.0" r="0.99" fill="#5a98d0" opacity="0.5"/><circle cx="55.2" cy="419.6" r="0.50" fill="#5a98d0" opacity="0.5"/><circle cx="56.8" cy="421.5" r="0.83" fill="#5a98d0" opacity="0.5"/><circle cx="62.9" cy="417.9" r="0.81" fill="#5a98d0" opacity="0.5"/><circle cx="57.2" cy="421.2" r="0.84" fill="#5a98d0" opacity="0.5"/></g></g>
<g clip-path="url(#e1)"><g filter="url(#nblur)" transform="rotate(0 79.1 418.7)"><ellipse cx="79.1" cy="418.7" rx="7" ry="6" fill="url(#nucA)"/><circle cx="74.3" cy="417.3" r="0.69" fill="#5a98d0" opacity="0.5"/><circle cx="81.2" cy="417.1" r="0.65" fill="#5a98d0" opacity="0.5"/><circle cx="78.6" cy="422.7" r="0.95" fill="#5a98d0" opacity="0.5"/><circle cx="81.5" cy="422.3" r="0.88" fill="#5a98d0" opacity="0.5"/><circle cx="79.3" cy="420.0" r="0.78" fill="#5a98d0" opacity="0.5"/><circle cx="81.8" cy="414.5" r="0.86" fill="#5a98d0" opacity="0.5"/><circle cx="75.7" cy="420.4" r="0.76" fill="#5a98d0" opacity="0.5"/><circle cx="81.8" cy="417.1" r="0.64" fill="#5a98d0" opacity="0.5"/><circle cx="74.4" cy="415.6" r="0.59" fill="#5a98d0" opacity="0.5"/><circle cx="81.1" cy="419.0" r="0.78" fill="#5a98d0" opacity="0.5"/><circle cx="77.0" cy="417.4" r="0.60" fill="#5a98d0" opacity="0.5"/><circle cx="75.1" cy="416.4" r="0.85" fill="#5a98d0" opacity="0.5"/><circle cx="78.9" cy="417.4" r="0.74" fill="#5a98d0" opacity="0.5"/><circle cx="82.1" cy="414.3" r="0.66" fill="#5a98d0" opacity="0.5"/><circle cx="82.0" cy="415.4" r="0.96" fill="#5a98d0" opacity="0.5"/><circle cx="79.8" cy="423.0" r="0.92" fill="#5a98d0" opacity="0.5"/><circle cx="77.2" cy="418.9" r="0.60" fill="#5a98d0" opacity="0.5"/><circle cx="80.1" cy="420.0" r="0.58" fill="#5a98d0" opacity="0.5"/><circle cx="77.6" cy="417.6" r="0.88" fill="#5a98d0" opacity="0.5"/><circle cx="78.6" cy="414.1" r="0.90" fill="#5a98d0" opacity="0.5"/><circle cx="77.8" cy="413.9" r="0.98" fill="#5a98d0" opacity="0.5"/><circle cx="74.9" cy="415.1" r="0.55" fill="#5a98d0" opacity="0.5"/><circle cx="80.3" cy="419.5" r="0.60" fill="#5a98d0" opacity="0.5"/><circle cx="76.2" cy="421.2" r="0.84" fill="#5a98d0" opacity="0.5"/><circle cx="79.0" cy="417.2" r="0.70" fill="#5a98d0" opacity="0.5"/><circle cx="75.5" cy="417.8" r="0.56" fill="#5a98d0" opacity="0.5"/><circle cx="76.1" cy="416.9" r="0.84" fill="#5a98d0" opacity="0.5"/><circle cx="73.2" cy="418.8" r="0.97" fill="#5a98d0" opacity="0.5"/><circle cx="83.8" cy="420.7" r="0.86" fill="#5a98d0" opacity="0.5"/></g></g>
<g clip-path="url(#e2)"><g filter="url(#nblur)" transform="rotate(0 115.8 381.7)"><ellipse cx="115.8" cy="381.7" rx="5.5" ry="7.4" fill="url(#nucA)"/><circle cx="115.3" cy="383.8" r="0.74" fill="#5a98d0" opacity="0.45"/><circle cx="113.3" cy="386.0" r="0.96" fill="#5a98d0" opacity="0.45"/><circle cx="113.9" cy="384.0" r="0.75" fill="#5a98d0" opacity="0.45"/><circle cx="114.4" cy="376.4" r="0.79" fill="#5a98d0" opacity="0.45"/><circle cx="115.0" cy="385.2" r="0.92" fill="#5a98d0" opacity="0.45"/><circle cx="114.7" cy="381.5" r="0.71" fill="#5a98d0" opacity="0.45"/><circle cx="116.1" cy="386.9" r="0.54" fill="#5a98d0" opacity="0.45"/><circle cx="115.6" cy="383.7" r="0.74" fill="#5a98d0" opacity="0.45"/><circle cx="119.3" cy="381.2" r="0.69" fill="#5a98d0" opacity="0.45"/><circle cx="117.1" cy="380.9" r="0.68" fill="#5a98d0" opacity="0.45"/><circle cx="115.9" cy="381.3" r="0.88" fill="#5a98d0" opacity="0.45"/><circle cx="115.4" cy="382.3" r="0.63" fill="#5a98d0" opacity="0.45"/><circle cx="113.0" cy="382.7" r="0.76" fill="#5a98d0" opacity="0.45"/><circle cx="117.9" cy="382.7" r="0.99" fill="#5a98d0" opacity="0.45"/><circle cx="112.8" cy="383.2" r="0.54" fill="#5a98d0" opacity="0.45"/><circle cx="115.0" cy="387.8" r="0.84" fill="#5a98d0" opacity="0.45"/><circle cx="114.7" cy="381.6" r="0.70" fill="#5a98d0" opacity="0.45"/><circle cx="116.4" cy="377.6" r="0.80" fill="#5a98d0" opacity="0.45"/><circle cx="118.9" cy="378.8" r="0.82" fill="#5a98d0" opacity="0.45"/><circle cx="116.5" cy="381.9" r="0.88" fill="#5a98d0" opacity="0.45"/><circle cx="112.0" cy="384.8" r="0.91" fill="#5a98d0" opacity="0.45"/><circle cx="118.3" cy="379.7" r="1.00" fill="#5a98d0" opacity="0.45"/><circle cx="116.0" cy="375.7" r="0.57" fill="#5a98d0" opacity="0.45"/><circle cx="116.4" cy="377.6" r="0.99" fill="#5a98d0" opacity="0.45"/></g></g>
<g clip-path="url(#e2)"><g filter="url(#nblur)" transform="rotate(0 133.2 379.8)"><ellipse cx="133.2" cy="379.8" rx="6.8" ry="7.1" fill="url(#nucA)"/><circle cx="135.9" cy="379.7" r="0.71" fill="#5a98d0" opacity="0.45"/><circle cx="132.7" cy="383.9" r="0.64" fill="#5a98d0" opacity="0.45"/><circle cx="132.2" cy="377.9" r="0.58" fill="#5a98d0" opacity="0.45"/><circle cx="131.7" cy="380.2" r="0.69" fill="#5a98d0" opacity="0.45"/><circle cx="137.6" cy="376.3" r="0.60" fill="#5a98d0" opacity="0.45"/><circle cx="138.5" cy="380.4" r="0.98" fill="#5a98d0" opacity="0.45"/><circle cx="131.4" cy="378.5" r="0.62" fill="#5a98d0" opacity="0.45"/><circle cx="138.2" cy="377.0" r="0.52" fill="#5a98d0" opacity="0.45"/><circle cx="134.7" cy="383.5" r="0.63" fill="#5a98d0" opacity="0.45"/><circle cx="133.3" cy="376.1" r="0.89" fill="#5a98d0" opacity="0.45"/><circle cx="135.6" cy="383.4" r="0.99" fill="#5a98d0" opacity="0.45"/><circle cx="132.7" cy="378.1" r="0.56" fill="#5a98d0" opacity="0.45"/><circle cx="131.0" cy="376.9" r="0.68" fill="#5a98d0" opacity="0.45"/><circle cx="128.8" cy="380.5" r="0.98" fill="#5a98d0" opacity="0.45"/><circle cx="133.5" cy="384.4" r="0.63" fill="#5a98d0" opacity="0.45"/><circle cx="128.4" cy="378.3" r="0.57" fill="#5a98d0" opacity="0.45"/><circle cx="128.3" cy="380.4" r="0.50" fill="#5a98d0" opacity="0.45"/><circle cx="133.7" cy="375.9" r="0.75" fill="#5a98d0" opacity="0.45"/><circle cx="129.2" cy="376.3" r="0.53" fill="#5a98d0" opacity="0.45"/><circle cx="132.1" cy="379.8" r="0.69" fill="#5a98d0" opacity="0.45"/><circle cx="132.7" cy="380.5" r="0.65" fill="#5a98d0" opacity="0.45"/><circle cx="128.7" cy="381.3" r="0.96" fill="#5a98d0" opacity="0.45"/><circle cx="130.3" cy="383.0" r="0.86" fill="#5a98d0" opacity="0.45"/><circle cx="138.5" cy="377.5" r="0.99" fill="#5a98d0" opacity="0.45"/><circle cx="132.4" cy="382.2" r="0.97" fill="#5a98d0" opacity="0.45"/><circle cx="136.7" cy="381.7" r="0.87" fill="#5a98d0" opacity="0.45"/><circle cx="129.6" cy="379.1" r="0.96" fill="#5a98d0" opacity="0.45"/><circle cx="131.9" cy="384.1" r="0.91" fill="#5a98d0" opacity="0.45"/></g></g>
<g clip-path="url(#e2)"><g filter="url(#nblur)" transform="rotate(0 151.3 382.4)"><ellipse cx="151.3" cy="382.4" rx="6.0" ry="7.1" fill="url(#nucA)"/><circle cx="153.3" cy="385.2" r="0.75" fill="#5a98d0" opacity="0.45"/><circle cx="149.1" cy="381.3" r="0.73" fill="#5a98d0" opacity="0.45"/><circle cx="152.7" cy="383.1" r="0.67" fill="#5a98d0" opacity="0.45"/><circle cx="154.4" cy="387.1" r="0.63" fill="#5a98d0" opacity="0.45"/><circle cx="150.6" cy="387.7" r="0.87" fill="#5a98d0" opacity="0.45"/><circle cx="150.9" cy="387.9" r="0.81" fill="#5a98d0" opacity="0.45"/><circle cx="148.2" cy="385.5" r="0.62" fill="#5a98d0" opacity="0.45"/><circle cx="150.9" cy="388.1" r="0.72" fill="#5a98d0" opacity="0.45"/><circle cx="153.0" cy="380.9" r="0.57" fill="#5a98d0" opacity="0.45"/><circle cx="155.5" cy="384.1" r="0.78" fill="#5a98d0" opacity="0.45"/><circle cx="152.4" cy="382.5" r="0.91" fill="#5a98d0" opacity="0.45"/><circle cx="146.5" cy="382.6" r="0.52" fill="#5a98d0" opacity="0.45"/><circle cx="149.8" cy="381.3" r="0.86" fill="#5a98d0" opacity="0.45"/><circle cx="148.2" cy="379.3" r="0.61" fill="#5a98d0" opacity="0.45"/><circle cx="152.9" cy="381.8" r="0.53" fill="#5a98d0" opacity="0.45"/><circle cx="150.7" cy="380.7" r="0.53" fill="#5a98d0" opacity="0.45"/><circle cx="147.3" cy="383.6" r="0.95" fill="#5a98d0" opacity="0.45"/><circle cx="151.1" cy="380.8" r="0.82" fill="#5a98d0" opacity="0.45"/><circle cx="152.3" cy="380.6" r="0.88" fill="#5a98d0" opacity="0.45"/><circle cx="151.1" cy="385.7" r="0.50" fill="#5a98d0" opacity="0.45"/><circle cx="151.5" cy="378.0" r="0.95" fill="#5a98d0" opacity="0.45"/><circle cx="149.3" cy="382.9" r="0.61" fill="#5a98d0" opacity="0.45"/><circle cx="150.9" cy="388.3" r="0.60" fill="#5a98d0" opacity="0.45"/><circle cx="153.9" cy="384.3" r="0.54" fill="#5a98d0" opacity="0.45"/><circle cx="147.7" cy="384.6" r="0.83" fill="#5a98d0" opacity="0.45"/></g></g>
<g clip-path="url(#e2)"><g filter="url(#nblur)" transform="rotate(0 147.8 403)"><ellipse cx="147.8" cy="403" rx="7.4" ry="7.1" fill="url(#nucA)"/><circle cx="148.9" cy="405.0" r="0.75" fill="#5a98d0" opacity="0.45"/><circle cx="146.2" cy="399.2" r="0.79" fill="#5a98d0" opacity="0.45"/><circle cx="149.9" cy="401.8" r="0.63" fill="#5a98d0" opacity="0.45"/><circle cx="143.1" cy="403.2" r="0.95" fill="#5a98d0" opacity="0.45"/><circle cx="142.9" cy="401.3" r="0.71" fill="#5a98d0" opacity="0.45"/><circle cx="149.0" cy="397.5" r="0.65" fill="#5a98d0" opacity="0.45"/><circle cx="150.3" cy="404.9" r="0.68" fill="#5a98d0" opacity="0.45"/><circle cx="150.3" cy="401.0" r="0.81" fill="#5a98d0" opacity="0.45"/><circle cx="143.9" cy="398.4" r="0.56" fill="#5a98d0" opacity="0.45"/><circle cx="148.3" cy="399.5" r="0.55" fill="#5a98d0" opacity="0.45"/><circle cx="143.9" cy="398.9" r="0.79" fill="#5a98d0" opacity="0.45"/><circle cx="153.8" cy="404.9" r="0.69" fill="#5a98d0" opacity="0.45"/><circle cx="144.3" cy="399.1" r="0.63" fill="#5a98d0" opacity="0.45"/><circle cx="144.7" cy="404.9" r="0.55" fill="#5a98d0" opacity="0.45"/><circle cx="152.8" cy="405.0" r="0.71" fill="#5a98d0" opacity="0.45"/><circle cx="148.9" cy="401.9" r="0.65" fill="#5a98d0" opacity="0.45"/><circle cx="150.4" cy="408.4" r="0.90" fill="#5a98d0" opacity="0.45"/><circle cx="151.4" cy="400.4" r="0.55" fill="#5a98d0" opacity="0.45"/><circle cx="145.2" cy="404.5" r="0.51" fill="#5a98d0" opacity="0.45"/><circle cx="144.7" cy="401.7" r="0.55" fill="#5a98d0" opacity="0.45"/><circle cx="141.7" cy="402.6" r="0.97" fill="#5a98d0" opacity="0.45"/><circle cx="145.8" cy="403.4" r="0.88" fill="#5a98d0" opacity="0.45"/><circle cx="151.3" cy="406.0" r="0.54" fill="#5a98d0" opacity="0.45"/><circle cx="152.5" cy="402.6" r="0.72" fill="#5a98d0" opacity="0.45"/><circle cx="147.1" cy="407.5" r="0.99" fill="#5a98d0" opacity="0.45"/><circle cx="145.2" cy="404.2" r="0.76" fill="#5a98d0" opacity="0.45"/><circle cx="151.2" cy="401.1" r="0.82" fill="#5a98d0" opacity="0.45"/><circle cx="151.0" cy="401.3" r="0.91" fill="#5a98d0" opacity="0.45"/><circle cx="145.5" cy="402.6" r="0.53" fill="#5a98d0" opacity="0.45"/><circle cx="151.8" cy="401.4" r="0.72" fill="#5a98d0" opacity="0.45"/><circle cx="152.0" cy="400.7" r="0.75" fill="#5a98d0" opacity="0.45"/></g></g>
<g clip-path="url(#e2)"><g filter="url(#nblur)" transform="rotate(30 175 388.8)"><ellipse cx="175" cy="388.8" rx="7.1" ry="7.9" fill="url(#nucA)"/><circle cx="173.9" cy="394.5" r="0.63" fill="#5a98d0" opacity="0.45"/><circle cx="169.8" cy="389.9" r="0.80" fill="#5a98d0" opacity="0.45"/><circle cx="176.8" cy="391.1" r="0.85" fill="#5a98d0" opacity="0.45"/><circle cx="174.7" cy="386.6" r="1.00" fill="#5a98d0" opacity="0.45"/><circle cx="176.7" cy="390.9" r="0.54" fill="#5a98d0" opacity="0.45"/><circle cx="170.5" cy="390.6" r="0.93" fill="#5a98d0" opacity="0.45"/><circle cx="177.6" cy="393.7" r="0.55" fill="#5a98d0" opacity="0.45"/><circle cx="172.3" cy="387.2" r="0.68" fill="#5a98d0" opacity="0.45"/><circle cx="179.9" cy="390.7" r="0.56" fill="#5a98d0" opacity="0.45"/><circle cx="175.3" cy="384.9" r="0.80" fill="#5a98d0" opacity="0.45"/><circle cx="172.3" cy="385.2" r="0.94" fill="#5a98d0" opacity="0.45"/><circle cx="177.8" cy="387.1" r="0.67" fill="#5a98d0" opacity="0.45"/><circle cx="176.6" cy="387.1" r="0.71" fill="#5a98d0" opacity="0.45"/><circle cx="169.8" cy="392.2" r="0.56" fill="#5a98d0" opacity="0.45"/><circle cx="172.0" cy="383.9" r="0.86" fill="#5a98d0" opacity="0.45"/><circle cx="180.9" cy="388.8" r="0.66" fill="#5a98d0" opacity="0.45"/><circle cx="178.0" cy="384.4" r="0.71" fill="#5a98d0" opacity="0.45"/><circle cx="177.6" cy="384.0" r="0.67" fill="#5a98d0" opacity="0.45"/><circle cx="174.5" cy="384.0" r="0.86" fill="#5a98d0" opacity="0.45"/><circle cx="170.9" cy="384.8" r="0.58" fill="#5a98d0" opacity="0.45"/><circle cx="174.8" cy="388.8" r="0.90" fill="#5a98d0" opacity="0.45"/><circle cx="175.8" cy="382.6" r="0.52" fill="#5a98d0" opacity="0.45"/><circle cx="170.9" cy="387.8" r="0.56" fill="#5a98d0" opacity="0.45"/><circle cx="176.8" cy="395.2" r="0.93" fill="#5a98d0" opacity="0.45"/><circle cx="175.4" cy="395.0" r="0.83" fill="#5a98d0" opacity="0.45"/><circle cx="171.3" cy="392.4" r="0.61" fill="#5a98d0" opacity="0.45"/><circle cx="174.9" cy="389.5" r="0.83" fill="#5a98d0" opacity="0.45"/><circle cx="170.4" cy="385.9" r="0.75" fill="#5a98d0" opacity="0.45"/><circle cx="171.9" cy="390.3" r="0.87" fill="#5a98d0" opacity="0.45"/><circle cx="171.7" cy="392.6" r="0.88" fill="#5a98d0" opacity="0.45"/><circle cx="170.2" cy="390.7" r="0.53" fill="#5a98d0" opacity="0.45"/><circle cx="174.6" cy="395.0" r="0.57" fill="#5a98d0" opacity="0.45"/><circle cx="175.7" cy="389.1" r="0.88" fill="#5a98d0" opacity="0.45"/></g></g>
<g clip-path="url(#e3)"><g filter="url(#nblur)" transform="rotate(-10 56.3 434.6)"><ellipse cx="56.3" cy="434.6" rx="8.7" ry="6.3" fill="url(#nucB)"/><circle cx="60.3" cy="436.9" r="0.78" fill="#5a98d0" opacity="0.7"/><circle cx="58.0" cy="431.1" r="0.81" fill="#5a98d0" opacity="0.7"/><circle cx="62.9" cy="435.3" r="0.91" fill="#5a98d0" opacity="0.7"/><circle cx="51.4" cy="431.1" r="0.85" fill="#5a98d0" opacity="0.7"/><circle cx="54.8" cy="429.7" r="0.85" fill="#5a98d0" opacity="0.7"/><circle cx="63.3" cy="435.2" r="1.00" fill="#5a98d0" opacity="0.7"/><circle cx="56.9" cy="435.9" r="0.74" fill="#5a98d0" opacity="0.7"/></g></g>
<g clip-path="url(#e3)"><g filter="url(#nblur)" transform="rotate(0 80.7 442.5)"><ellipse cx="80.7" cy="442.5" rx="7.9" ry="7.4" fill="url(#nucB)"/><circle cx="84.0" cy="444.8" r="0.64" fill="#5a98d0" opacity="0.7"/><circle cx="80.8" cy="442.9" r="0.77" fill="#5a98d0" opacity="0.7"/><circle cx="78.9" cy="447.7" r="0.76" fill="#5a98d0" opacity="0.7"/><circle cx="84.0" cy="447.9" r="0.96" fill="#5a98d0" opacity="0.7"/><circle cx="79.5" cy="439.7" r="0.76" fill="#5a98d0" opacity="0.7"/><circle cx="76.6" cy="443.7" r="0.61" fill="#5a98d0" opacity="0.7"/><circle cx="75.0" cy="444.0" r="0.88" fill="#5a98d0" opacity="0.7"/></g></g>
<g clip-path="url(#e3)"><g filter="url(#nblur)" transform="rotate(10 37.4 453.5)"><ellipse cx="37.4" cy="453.5" rx="8.2" ry="7.1" fill="url(#nucB)"/><circle cx="41.1" cy="449.6" r="0.91" fill="#5a98d0" opacity="0.7"/><circle cx="42.0" cy="449.3" r="0.92" fill="#5a98d0" opacity="0.7"/><circle cx="32.4" cy="456.0" r="0.86" fill="#5a98d0" opacity="0.7"/><circle cx="41.8" cy="450.0" r="0.78" fill="#5a98d0" opacity="0.7"/><circle cx="38.9" cy="456.8" r="0.70" fill="#5a98d0" opacity="0.7"/><circle cx="34.8" cy="448.6" r="0.68" fill="#5a98d0" opacity="0.7"/><circle cx="31.1" cy="452.3" r="0.75" fill="#5a98d0" opacity="0.7"/></g></g>
<g clip-path="url(#e3)"><g filter="url(#nblur)" transform="rotate(0 45.2 471.7)"><ellipse cx="45.2" cy="471.7" rx="7.1" ry="7.1" fill="url(#nucB)"/><circle cx="49.1" cy="474.4" r="0.74" fill="#5a98d0" opacity="0.7"/><circle cx="47.2" cy="474.3" r="0.60" fill="#5a98d0" opacity="0.7"/><circle cx="47.6" cy="474.9" r="0.64" fill="#5a98d0" opacity="0.7"/><circle cx="49.7" cy="471.9" r="0.98" fill="#5a98d0" opacity="0.7"/><circle cx="47.0" cy="468.7" r="0.97" fill="#5a98d0" opacity="0.7"/><circle cx="47.3" cy="472.8" r="0.60" fill="#5a98d0" opacity="0.7"/></g></g>
<g clip-path="url(#e3)"><g filter="url(#nblur)" transform="rotate(0 82.3 472.5)"><ellipse cx="82.3" cy="472.5" rx="7.6" ry="7.9" fill="url(#nucB)"/><circle cx="87.0" cy="474.4" r="0.90" fill="#5a98d0" opacity="0.7"/><circle cx="76.5" cy="473.4" r="0.78" fill="#5a98d0" opacity="0.7"/><circle cx="86.7" cy="469.9" r="0.81" fill="#5a98d0" opacity="0.7"/><circle cx="84.3" cy="476.4" r="0.78" fill="#5a98d0" opacity="0.7"/><circle cx="83.7" cy="469.6" r="0.72" fill="#5a98d0" opacity="0.7"/><circle cx="83.0" cy="470.8" r="0.81" fill="#5a98d0" opacity="0.7"/><circle cx="83.3" cy="477.9" r="0.84" fill="#5a98d0" opacity="0.7"/></g></g>
<g clip-path="url(#e3)"><g filter="url(#nblur)" transform="rotate(0 24.7 481)"><ellipse cx="24.7" cy="481" rx="6" ry="6" fill="url(#nucB)"/><circle cx="28.4" cy="483.5" r="0.76" fill="#5a98d0" opacity="0.7"/><circle cx="22.6" cy="485.3" r="0.91" fill="#5a98d0" opacity="0.7"/><circle cx="23.1" cy="485.0" r="0.65" fill="#5a98d0" opacity="0.7"/><circle cx="23.2" cy="480.8" r="0.86" fill="#5a98d0" opacity="0.7"/></g></g>
<g clip-path="url(#e4)"><g filter="url(#nblur)" transform="rotate(0 132.4 434.6)"><ellipse cx="132.4" cy="434.6" rx="7.1" ry="7.1" fill="url(#nucB)"/><circle cx="136.6" cy="432.1" r="0.52" fill="#5a98d0" opacity="0.65"/><circle cx="128.2" cy="434.3" r="0.68" fill="#5a98d0" opacity="0.65"/><circle cx="134.3" cy="437.2" r="0.68" fill="#5a98d0" opacity="0.65"/><circle cx="136.9" cy="436.8" r="0.60" fill="#5a98d0" opacity="0.65"/><circle cx="131.9" cy="436.4" r="0.62" fill="#5a98d0" opacity="0.65"/><circle cx="135.4" cy="433.2" r="0.54" fill="#5a98d0" opacity="0.65"/><circle cx="129.0" cy="439.5" r="0.54" fill="#5a98d0" opacity="0.65"/><circle cx="130.9" cy="436.9" r="0.77" fill="#5a98d0" opacity="0.65"/><circle cx="130.5" cy="435.1" r="0.84" fill="#5a98d0" opacity="0.65"/><circle cx="130.0" cy="439.1" r="0.68" fill="#5a98d0" opacity="0.65"/><circle cx="133.4" cy="433.5" r="0.59" fill="#5a98d0" opacity="0.65"/><circle cx="131.7" cy="437.7" r="0.83" fill="#5a98d0" opacity="0.65"/><circle cx="128.8" cy="434.5" r="0.70" fill="#5a98d0" opacity="0.65"/><circle cx="135.0" cy="430.8" r="0.68" fill="#5a98d0" opacity="0.65"/><circle cx="129.8" cy="430.6" r="0.66" fill="#5a98d0" opacity="0.65"/></g></g>
<g clip-path="url(#e4)"><g filter="url(#nblur)" transform="rotate(-20 148.2 433.8)"><ellipse cx="148.2" cy="433.8" rx="7.1" ry="6.3" fill="url(#nucB)"/><circle cx="146.2" cy="434.7" r="0.68" fill="#5a98d0" opacity="0.65"/><circle cx="150.6" cy="431.7" r="0.65" fill="#5a98d0" opacity="0.65"/><circle cx="144.5" cy="431.3" r="0.57" fill="#5a98d0" opacity="0.65"/><circle cx="143.3" cy="435.3" r="0.52" fill="#5a98d0" opacity="0.65"/><circle cx="152.3" cy="436.8" r="0.86" fill="#5a98d0" opacity="0.65"/><circle cx="149.8" cy="434.4" r="0.75" fill="#5a98d0" opacity="0.65"/><circle cx="147.1" cy="438.1" r="0.51" fill="#5a98d0" opacity="0.65"/><circle cx="145.8" cy="434.4" r="0.63" fill="#5a98d0" opacity="0.65"/><circle cx="146.7" cy="430.2" r="0.84" fill="#5a98d0" opacity="0.65"/><circle cx="150.8" cy="430.2" r="0.84" fill="#5a98d0" opacity="0.65"/><circle cx="150.1" cy="437.2" r="0.63" fill="#5a98d0" opacity="0.65"/><circle cx="146.8" cy="432.5" r="0.85" fill="#5a98d0" opacity="0.65"/><circle cx="144.5" cy="437.3" r="0.88" fill="#5a98d0" opacity="0.65"/></g></g>
<g clip-path="url(#e4)"><g filter="url(#nblur)" transform="rotate(-20 174.2 437)"><ellipse cx="174.2" cy="437" rx="5.5" ry="7.6" fill="url(#nucB)"/><circle cx="176.9" cy="435.5" r="0.84" fill="#5a98d0" opacity="0.65"/><circle cx="175.9" cy="437.0" r="0.80" fill="#5a98d0" opacity="0.65"/><circle cx="173.7" cy="432.6" r="0.61" fill="#5a98d0" opacity="0.65"/><circle cx="175.6" cy="440.7" r="0.87" fill="#5a98d0" opacity="0.65"/><circle cx="172.2" cy="438.9" r="0.75" fill="#5a98d0" opacity="0.65"/><circle cx="170.8" cy="439.0" r="0.68" fill="#5a98d0" opacity="0.65"/><circle cx="174.0" cy="438.2" r="0.83" fill="#5a98d0" opacity="0.65"/><circle cx="172.9" cy="434.3" r="0.70" fill="#5a98d0" opacity="0.65"/><circle cx="171.3" cy="434.7" r="0.86" fill="#5a98d0" opacity="0.65"/><circle cx="174.7" cy="433.4" r="0.64" fill="#5a98d0" opacity="0.65"/><circle cx="172.7" cy="435.3" r="0.87" fill="#5a98d0" opacity="0.65"/><circle cx="177.4" cy="438.3" r="0.61" fill="#5a98d0" opacity="0.65"/></g></g>
<g clip-path="url(#e4)"><g filter="url(#nblur)" transform="rotate(0 122.1 447.2)"><ellipse cx="122.1" cy="447.2" rx="7.4" ry="7.1" fill="url(#nucB)"/><circle cx="120.8" cy="447.0" r="0.59" fill="#5a98d0" opacity="0.65"/><circle cx="127.7" cy="446.8" r="0.59" fill="#5a98d0" opacity="0.65"/><circle cx="121.0" cy="447.5" r="0.55" fill="#5a98d0" opacity="0.65"/><circle cx="124.4" cy="452.9" r="0.62" fill="#5a98d0" opacity="0.65"/><circle cx="122.1" cy="448.8" r="0.54" fill="#5a98d0" opacity="0.65"/><circle cx="127.6" cy="447.0" r="0.87" fill="#5a98d0" opacity="0.65"/><circle cx="125.0" cy="442.6" r="0.60" fill="#5a98d0" opacity="0.65"/><circle cx="123.7" cy="450.0" r="0.53" fill="#5a98d0" opacity="0.65"/><circle cx="124.5" cy="451.8" r="0.70" fill="#5a98d0" opacity="0.65"/><circle cx="125.6" cy="447.4" r="0.84" fill="#5a98d0" opacity="0.65"/><circle cx="125.3" cy="443.0" r="0.79" fill="#5a98d0" opacity="0.65"/><circle cx="126.1" cy="444.8" r="0.65" fill="#5a98d0" opacity="0.65"/><circle cx="119.1" cy="445.8" r="0.51" fill="#5a98d0" opacity="0.65"/><circle cx="121.8" cy="451.3" r="0.55" fill="#5a98d0" opacity="0.65"/><circle cx="124.9" cy="448.7" r="0.65" fill="#5a98d0" opacity="0.65"/></g></g>
<g clip-path="url(#e4)"><g filter="url(#nblur)" transform="rotate(0 131.6 474)"><ellipse cx="131.6" cy="474" rx="7.1" ry="7.1" fill="url(#nucB)"/><circle cx="135.7" cy="472.9" r="0.83" fill="#5a98d0" opacity="0.65"/><circle cx="131.4" cy="469.3" r="0.63" fill="#5a98d0" opacity="0.65"/><circle cx="128.9" cy="476.1" r="0.75" fill="#5a98d0" opacity="0.65"/><circle cx="134.9" cy="469.7" r="0.62" fill="#5a98d0" opacity="0.65"/><circle cx="131.9" cy="474.5" r="0.73" fill="#5a98d0" opacity="0.65"/><circle cx="131.7" cy="474.5" r="0.62" fill="#5a98d0" opacity="0.65"/><circle cx="132.0" cy="476.7" r="0.77" fill="#5a98d0" opacity="0.65"/><circle cx="128.8" cy="472.4" r="0.79" fill="#5a98d0" opacity="0.65"/><circle cx="133.2" cy="479.6" r="0.55" fill="#5a98d0" opacity="0.65"/><circle cx="127.3" cy="471.2" r="0.79" fill="#5a98d0" opacity="0.65"/><circle cx="125.9" cy="474.5" r="0.75" fill="#5a98d0" opacity="0.65"/><circle cx="131.0" cy="472.4" r="0.57" fill="#5a98d0" opacity="0.65"/><circle cx="127.2" cy="475.0" r="0.54" fill="#5a98d0" opacity="0.65"/><circle cx="131.4" cy="470.4" r="0.69" fill="#5a98d0" opacity="0.65"/><circle cx="126.1" cy="473.2" r="0.62" fill="#5a98d0" opacity="0.65"/></g></g>
<g clip-path="url(#e4)"><g filter="url(#nblur)" transform="rotate(20 154.8 473.3)"><ellipse cx="154.8" cy="473.3" rx="6.3" ry="7.1" fill="url(#nucB)"/><circle cx="150.9" cy="471.6" r="0.76" fill="#5a98d0" opacity="0.65"/><circle cx="153.7" cy="476.3" r="0.69" fill="#5a98d0" opacity="0.65"/><circle cx="151.3" cy="470.4" r="0.55" fill="#5a98d0" opacity="0.65"/><circle cx="151.0" cy="474.8" r="0.58" fill="#5a98d0" opacity="0.65"/><circle cx="159.0" cy="476.8" r="0.51" fill="#5a98d0" opacity="0.65"/><circle cx="151.9" cy="473.3" r="0.51" fill="#5a98d0" opacity="0.65"/><circle cx="154.5" cy="475.7" r="0.66" fill="#5a98d0" opacity="0.65"/><circle cx="156.1" cy="472.4" r="0.64" fill="#5a98d0" opacity="0.65"/><circle cx="153.3" cy="468.8" r="0.51" fill="#5a98d0" opacity="0.65"/><circle cx="155.2" cy="476.5" r="0.86" fill="#5a98d0" opacity="0.65"/><circle cx="152.2" cy="474.4" r="0.69" fill="#5a98d0" opacity="0.65"/><circle cx="152.7" cy="473.5" r="0.77" fill="#5a98d0" opacity="0.65"/><circle cx="154.1" cy="469.2" r="0.71" fill="#5a98d0" opacity="0.65"/></g></g>
<text x="96.5" y="369.6" font-size="8.6" text-anchor="end" fill="#b89cc8" textLength="18.6" lengthAdjust="spacingAndGlyphs">DAPI</text>
<text x="180.7" y="369.4" font-size="7.9" text-anchor="end" fill="#4fb0d8" textLength="25.8" lengthAdjust="spacingAndGlyphs">yH2AX</text>
<line x1="214.6" y1="368.6" x2="214.6" y2="443.9" stroke="#231f20" stroke-width="1.0"/>
<line x1="211.4" y1="443.4" x2="214.6" y2="443.4" stroke="#231f20" stroke-width="1.0"/>
<text x="210.4" y="446.0" font-size="7.4" text-anchor="end" fill="#231f20">0</text>
<line x1="211.4" y1="425.15" x2="214.6" y2="425.15" stroke="#231f20" stroke-width="1.0"/>
<text x="210.4" y="427.75" font-size="7.4" text-anchor="end" fill="#231f20">20</text>
<line x1="211.4" y1="406.9" x2="214.6" y2="406.9" stroke="#231f20" stroke-width="1.0"/>
<text x="210.4" y="409.5" font-size="7.4" text-anchor="end" fill="#231f20">40</text>
<line x1="211.4" y1="388.65" x2="214.6" y2="388.65" stroke="#231f20" stroke-width="1.0"/>
<text x="210.4" y="391.25" font-size="7.4" text-anchor="end" fill="#231f20">60</text>
<line x1="211.4" y1="370.4" x2="214.6" y2="370.4" stroke="#231f20" stroke-width="1.0"/>
<text x="210.4" y="373.0" font-size="7.4" text-anchor="end" fill="#231f20">80</text>
<line x1="214.1" y1="443.4" x2="362" y2="443.4" stroke="#231f20" stroke-width="1.0"/>
<text x="195.3" y="403" font-size="8.6" text-anchor="middle" fill="#231f20" textLength="70.6" lengthAdjust="spacingAndGlyphs" transform="rotate(-90 195.3 403)">yH2AX foci per cell</text>
<line x1="231.0" y1="419.5" x2="231.0" y2="437.5" stroke="#5b7298" stroke-width="1"/>
<line x1="231.0" y1="442.4" x2="231.0" y2="443.2" stroke="#5b7298" stroke-width="1"/>
<line x1="226.9" y1="419.5" x2="235.1" y2="419.5" stroke="#5b7298" stroke-width="1"/>
<line x1="226.9" y1="443.2" x2="235.1" y2="443.2" stroke="#5b7298" stroke-width="1"/>
<rect x="223.1" y="437.5" width="15.8" height="4.90" fill="none" stroke="#5b7298" stroke-width="1"/>
<line x1="223.1" y1="440.4" x2="238.9" y2="440.4" stroke="#5b7298" stroke-width="1"/>
<line x1="231.0" y1="443.4" x2="231.0" y2="446.4" stroke="#231f20" stroke-width="1"/>
<line x1="254.8" y1="424.4" x2="254.8" y2="440.2" stroke="#7fb26a" stroke-width="1"/>
<line x1="254.8" y1="443.0" x2="254.8" y2="443.2" stroke="#7fb26a" stroke-width="1"/>
<line x1="250.70000000000002" y1="424.4" x2="258.90000000000003" y2="424.4" stroke="#7fb26a" stroke-width="1"/>
<line x1="250.70000000000002" y1="443.2" x2="258.90000000000003" y2="443.2" stroke="#7fb26a" stroke-width="1"/>
<rect x="246.9" y="440.2" width="15.8" height="2.80" fill="none" stroke="#7fb26a" stroke-width="1"/>
<line x1="246.9" y1="442.0" x2="262.7" y2="442.0" stroke="#7fb26a" stroke-width="1"/>
<line x1="254.8" y1="443.4" x2="254.8" y2="446.4" stroke="#231f20" stroke-width="1"/>
<line x1="278.7" y1="399.6" x2="278.7" y2="415.4" stroke="#5b7298" stroke-width="1"/>
<line x1="278.7" y1="422.1" x2="278.7" y2="431.2" stroke="#5b7298" stroke-width="1"/>
<line x1="274.59999999999997" y1="399.6" x2="282.8" y2="399.6" stroke="#5b7298" stroke-width="1"/>
<line x1="274.59999999999997" y1="431.2" x2="282.8" y2="431.2" stroke="#5b7298" stroke-width="1"/>
<rect x="270.8" y="415.4" width="15.8" height="6.70" fill="none" stroke="#5b7298" stroke-width="1"/>
<line x1="270.8" y1="418.7" x2="286.59999999999997" y2="418.7" stroke="#5b7298" stroke-width="1"/>
<line x1="278.7" y1="443.4" x2="278.7" y2="446.4" stroke="#231f20" stroke-width="1"/>
<line x1="302.4" y1="379.7" x2="302.4" y2="416.3" stroke="#7fb26a" stroke-width="1"/>
<line x1="302.4" y1="423.7" x2="302.4" y2="441.3" stroke="#7fb26a" stroke-width="1"/>
<line x1="298.29999999999995" y1="379.7" x2="306.5" y2="379.7" stroke="#7fb26a" stroke-width="1"/>
<line x1="298.29999999999995" y1="441.3" x2="306.5" y2="441.3" stroke="#7fb26a" stroke-width="1"/>
<rect x="294.5" y="416.3" width="15.8" height="7.40" fill="none" stroke="#7fb26a" stroke-width="1"/>
<line x1="294.5" y1="420.2" x2="310.29999999999995" y2="420.2" stroke="#7fb26a" stroke-width="1"/>
<line x1="302.4" y1="443.4" x2="302.4" y2="446.4" stroke="#231f20" stroke-width="1"/>
<line x1="326.1" y1="414.1" x2="326.1" y2="431.3" stroke="#5b7298" stroke-width="1"/>
<line x1="326.1" y1="437.5" x2="326.1" y2="443.0" stroke="#5b7298" stroke-width="1"/>
<line x1="322.0" y1="414.1" x2="330.20000000000005" y2="414.1" stroke="#5b7298" stroke-width="1"/>
<line x1="322.0" y1="443.0" x2="330.20000000000005" y2="443.0" stroke="#5b7298" stroke-width="1"/>
<rect x="318.20000000000005" y="431.3" width="15.8" height="6.20" fill="none" stroke="#5b7298" stroke-width="1"/>
<line x1="318.20000000000005" y1="434.6" x2="334.0" y2="434.6" stroke="#5b7298" stroke-width="1"/>
<line x1="326.1" y1="443.4" x2="326.1" y2="446.4" stroke="#231f20" stroke-width="1"/>
<line x1="349.7" y1="411.6" x2="349.7" y2="428.8" stroke="#7fb26a" stroke-width="1"/>
<line x1="349.7" y1="434.6" x2="349.7" y2="443.0" stroke="#7fb26a" stroke-width="1"/>
<line x1="345.59999999999997" y1="411.6" x2="353.8" y2="411.6" stroke="#7fb26a" stroke-width="1"/>
<line x1="345.59999999999997" y1="443.0" x2="353.8" y2="443.0" stroke="#7fb26a" stroke-width="1"/>
<rect x="341.8" y="428.8" width="15.8" height="5.80" fill="none" stroke="#7fb26a" stroke-width="1"/>
<line x1="341.8" y1="431.3" x2="357.59999999999997" y2="431.3" stroke="#7fb26a" stroke-width="1"/>
<line x1="349.7" y1="443.4" x2="349.7" y2="446.4" stroke="#231f20" stroke-width="1"/>
<text x="254.8" y="418.5" font-size="7.4" text-anchor="middle" fill="#231f20">ns</text>
<text x="349.7" y="411.5" font-size="8.4" text-anchor="middle" fill="#231f20">***</text>
<line x1="227.4" y1="366.6" x2="263.2" y2="366.6" stroke="#555" stroke-width="1.3"/>
<text x="245.3" y="363.4" font-size="8.0" text-anchor="middle" fill="#231f20" textLength="16" lengthAdjust="spacingAndGlyphs">no IR</text>
<line x1="274.1" y1="366.6" x2="309.9" y2="366.6" stroke="#555" stroke-width="1.3"/>
<text x="292.0" y="363.4" font-size="8.0" text-anchor="middle" fill="#231f20" textLength="20.6" lengthAdjust="spacingAndGlyphs">30 min</text>
<line x1="320.7" y1="366.6" x2="356.7" y2="366.6" stroke="#555" stroke-width="1.3"/>
<text x="338.7" y="363.4" font-size="8.0" text-anchor="middle" fill="#231f20" textLength="11" lengthAdjust="spacingAndGlyphs">5 hr</text>
<text x="233.5" y="452.1" font-size="7.6" text-anchor="end" fill="#231f20" transform="rotate(-45 233.5 452.1)">TP53+/-</text>
<text x="257.3" y="452.1" font-size="7.6" text-anchor="end" fill="#231f20" transform="rotate(-45 257.3 452.1)">del5q</text>
<text x="281.2" y="452.1" font-size="7.6" text-anchor="end" fill="#231f20" transform="rotate(-45 281.2 452.1)">TP53+/-</text>
<text x="304.9" y="452.1" font-size="7.6" text-anchor="end" fill="#231f20" transform="rotate(-45 304.9 452.1)">del5q</text>
<text x="328.6" y="452.1" font-size="7.6" text-anchor="end" fill="#231f20" transform="rotate(-45 328.6 452.1)">TP53+/-</text>
<text x="352.2" y="452.1" font-size="7.6" text-anchor="end" fill="#231f20" transform="rotate(-45 352.2 452.1)">del5q</text>
<text x="222.3" y="483.5" font-size="8.0" text-anchor="end" fill="#231f20" textLength="26.6" lengthAdjust="spacingAndGlyphs">Median:</text>
<text x="230.9" y="483.5" font-size="7.6" text-anchor="middle" fill="#231f20">2</text>
<text x="255.1" y="483.5" font-size="7.6" text-anchor="middle" fill="#231f20">2</text>
<text x="280.4" y="483.5" font-size="7.6" text-anchor="middle" fill="#231f20">27</text>
<text x="302.8" y="483.5" font-size="7.6" text-anchor="middle" fill="#231f20">24</text>
<text x="326.5" y="483.5" font-size="7.6" text-anchor="middle" fill="#231f20">9</text>
<text x="349.6" y="483.5" font-size="7.6" text-anchor="middle" fill="#231f20">13</text>
<text x="373.6" y="343.1" font-size="11" text-anchor="start" fill="#231f20" textLength="5.4" lengthAdjust="spacingAndGlyphs">F</text>
<text x="397.6" y="368.7" font-size="8.0" text-anchor="middle" fill="#231f20" textLength="26.4" lengthAdjust="spacingAndGlyphs">TP53 2n</text>
<text x="397.6" y="427.9" font-size="8.0" text-anchor="middle" fill="#231f20" textLength="31.8" lengthAdjust="spacingAndGlyphs">TP53 LOH</text>
<rect x="370.3" y="373.7" width="54.6" height="41.7" fill="#22241f"/>
<rect x="370.3" y="430.9" width="54.6" height="41.7" fill="#22241f"/>
<ellipse cx="399.7" cy="396.3" rx="16.9" ry="16" fill="#4a2e78"/>
<ellipse cx="397.4" cy="455.9" rx="14" ry="12.6" fill="#4a2e78"/>
<line x1="378.5" y1="400.3" x2="391.5" y2="393.8" stroke="#e8e8e8" stroke-width="0.5"/>
<line x1="378.5" y1="400.8" x2="394.5" y2="401.2" stroke="#e8e8e8" stroke-width="0.5"/>
<line x1="413" y1="389.8" x2="398" y2="394" stroke="#e8e8e8" stroke-width="0.5"/>
<line x1="413" y1="390.5" x2="394.5" y2="398.5" stroke="#e8e8e8" stroke-width="0.5"/>
<circle cx="392.4" cy="393" r="1.1" fill="#e03a8a"/><circle cx="395.5" cy="401.2" r="1.1" fill="#e03a8a"/>
<ellipse cx="396.8" cy="393.6" rx="1.4" ry="0.9" transform="rotate(40 396.8 393.6)" fill="#4ad07a"/><circle cx="393.3" cy="398.3" r="0.8" fill="#4ad07a"/>
<text x="418" y="391" font-size="3.6" font-weight="bold" text-anchor="middle" fill="#eee">CC17</text>
<text x="375" y="401.8" font-size="3.6" font-weight="bold" text-anchor="middle" fill="#eee">P53</text>
<line x1="413" y1="440.8" x2="394" y2="449" stroke="#e8e8e8" stroke-width="0.5"/>
<line x1="413" y1="441.5" x2="396.5" y2="456.8" stroke="#e8e8e8" stroke-width="0.5"/>
<line x1="379" y1="458.4" x2="391" y2="452.6" stroke="#e8e8e8" stroke-width="0.5"/>
<circle cx="392" cy="452.2" r="1.1" fill="#e03a8a"/>
<circle cx="392.6" cy="449.3" r="0.8" fill="#4ad07a"/><circle cx="395.9" cy="457.6" r="0.9" fill="#4ad07a"/>
<text x="418.3" y="440.8" font-size="3.6" font-weight="bold" text-anchor="middle" fill="#eee">CC17</text>
<text x="375.8" y="460" font-size="3.6" font-weight="bold" text-anchor="middle" fill="#eee">P53</text>
<line x1="459.1" y1="367.5" x2="459.1" y2="456.7" stroke="#231f20" stroke-width="1.0"/>
<line x1="455.90000000000003" y1="456.2" x2="459.1" y2="456.2" stroke="#231f20" stroke-width="1.0"/>
<text x="453.6" y="458.8" font-size="7.4" text-anchor="end" fill="#231f20">0</text>
<line x1="455.90000000000003" y1="427.3" x2="459.1" y2="427.3" stroke="#231f20" stroke-width="1.0"/>
<text x="453.6" y="429.90000000000003" font-size="7.4" text-anchor="end" fill="#231f20">5</text>
<line x1="455.90000000000003" y1="398.4" x2="459.1" y2="398.4" stroke="#231f20" stroke-width="1.0"/>
<text x="453.6" y="401.0" font-size="7.4" text-anchor="end" fill="#231f20">10</text>
<line x1="455.90000000000003" y1="369.5" x2="459.1" y2="369.5" stroke="#231f20" stroke-width="1.0"/>
<text x="453.6" y="372.1" font-size="7.4" text-anchor="end" fill="#231f20">15</text>
<line x1="458.6" y1="456.2" x2="512" y2="456.2" stroke="#231f20" stroke-width="1.0"/>
<rect x="463.60" y="440.20" width="6.80" height="16.00" fill="#a03644" stroke="#8e2236" stroke-width="0.8"/>
<rect x="475.40" y="438.10" width="6.80" height="18.10" fill="#4e6382" stroke="#3e5478" stroke-width="0.8"/>
<rect x="489.50" y="375.00" width="7.30" height="81.20" fill="#a03644" stroke="#8e2236" stroke-width="0.8"/>
<rect x="501.70" y="444.70" width="6.90" height="11.50" fill="#4e6382" stroke="#3e5478" stroke-width="0.8"/>
<line x1="472.9" y1="456.2" x2="472.9" y2="459.2" stroke="#231f20" stroke-width="1"/>
<line x1="499.5" y1="456.2" x2="499.5" y2="459.2" stroke="#231f20" stroke-width="1"/>
<text x="476.3" y="465" font-size="7.6" text-anchor="end" fill="#231f20" transform="rotate(-45 476.3 465)">TP53+/-</text>
<text x="503.4" y="465" font-size="7.6" text-anchor="end" fill="#231f20" transform="rotate(-45 503.4 465)">del5(q)</text>
<rect x="465.30" y="348.90" width="8.10" height="7.00" fill="#a03644"/>
<rect x="465.30" y="359.20" width="8.10" height="6.80" fill="#4e6382"/>
<text x="476.4" y="354.9" font-size="8.0" text-anchor="start" fill="#231f20" textLength="26.6" lengthAdjust="spacingAndGlyphs">TP53 1n</text>
<text x="476.4" y="365.2" font-size="8.0" text-anchor="start" fill="#231f20" textLength="27.4" lengthAdjust="spacingAndGlyphs">CC17 1n</text>
<text x="439.8" y="411.4" font-size="8.6" text-anchor="middle" fill="#231f20" textLength="47.8" lengthAdjust="spacingAndGlyphs" transform="rotate(-90 439.8 411.4)">% TP53 LOH</text>
<rect x="0" y="0" width="520" height="1.1" fill="#111"/>
<rect x="0" y="0" width="1.5" height="494" fill="#555"/>
<rect x="518.4" y="0" width="1.6" height="494" fill="#444"/>
<rect x="0" y="492" width="520" height="2" fill="#444"/>
</svg>
</body></html>
